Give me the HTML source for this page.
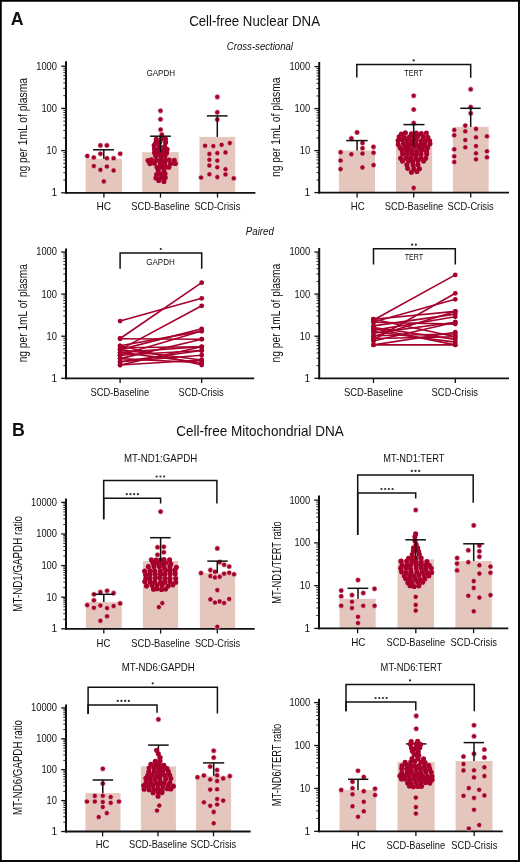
<!DOCTYPE html>
<html><head><meta charset="utf-8"><title>Cell-free DNA figure</title>
<style>html,body{margin:0;padding:0;background:#fff;}svg{display:block;will-change:transform;}</style>
</head><body>
<svg width="520" height="862" viewBox="0 0 520 862" font-family='"Liberation Sans", sans-serif'>
<rect x="0" y="0" width="520" height="862" fill="#fff"/>
<text x="10.80" y="25.40" font-size="17.8" text-anchor="start" font-weight="bold" font-style="normal" fill="#111">A</text>
<text x="189.20" y="25.90" font-size="13.9" text-anchor="start" font-weight="normal" font-style="normal" fill="#111" textLength="130.8" lengthAdjust="spacingAndGlyphs">Cell-free Nuclear DNA</text>
<text x="226.80" y="50.20" font-size="10.4" text-anchor="start" font-weight="normal" font-style="italic" fill="#111" textLength="66.2" lengthAdjust="spacingAndGlyphs">Cross-sectional</text>
<text x="245.80" y="234.70" font-size="10.2" text-anchor="start" font-weight="normal" font-style="italic" fill="#111" textLength="28.0" lengthAdjust="spacingAndGlyphs">Paired</text>
<text x="12.10" y="436.30" font-size="17.8" text-anchor="start" font-weight="bold" font-style="normal" fill="#111">B</text>
<text x="176.20" y="436.20" font-size="13.9" text-anchor="start" font-weight="normal" font-style="normal" fill="#111" textLength="167.6" lengthAdjust="spacingAndGlyphs">Cell-free Mitochondrial DNA</text>
<rect x="85.70" y="158.70" width="36.30" height="34.10" fill="#e5c6bc"/>
<rect x="142.20" y="152.20" width="36.50" height="40.60" fill="#e5c6bc"/>
<rect x="199.50" y="136.90" width="35.70" height="55.90" fill="#e5c6bc"/>
<line x1="63.30" y1="180.10" x2="66.00" y2="180.10" stroke="#111" stroke-width="0.9"/>
<line x1="63.30" y1="172.67" x2="66.00" y2="172.67" stroke="#111" stroke-width="0.9"/>
<line x1="63.30" y1="167.39" x2="66.00" y2="167.39" stroke="#111" stroke-width="0.9"/>
<line x1="63.30" y1="163.30" x2="66.00" y2="163.30" stroke="#111" stroke-width="0.9"/>
<line x1="63.30" y1="159.96" x2="66.00" y2="159.96" stroke="#111" stroke-width="0.9"/>
<line x1="63.30" y1="157.14" x2="66.00" y2="157.14" stroke="#111" stroke-width="0.9"/>
<line x1="63.30" y1="154.69" x2="66.00" y2="154.69" stroke="#111" stroke-width="0.9"/>
<line x1="63.30" y1="152.53" x2="66.00" y2="152.53" stroke="#111" stroke-width="0.9"/>
<line x1="63.30" y1="137.90" x2="66.00" y2="137.90" stroke="#111" stroke-width="0.9"/>
<line x1="63.30" y1="130.47" x2="66.00" y2="130.47" stroke="#111" stroke-width="0.9"/>
<line x1="63.30" y1="125.19" x2="66.00" y2="125.19" stroke="#111" stroke-width="0.9"/>
<line x1="63.30" y1="121.10" x2="66.00" y2="121.10" stroke="#111" stroke-width="0.9"/>
<line x1="63.30" y1="117.76" x2="66.00" y2="117.76" stroke="#111" stroke-width="0.9"/>
<line x1="63.30" y1="114.94" x2="66.00" y2="114.94" stroke="#111" stroke-width="0.9"/>
<line x1="63.30" y1="112.49" x2="66.00" y2="112.49" stroke="#111" stroke-width="0.9"/>
<line x1="63.30" y1="110.33" x2="66.00" y2="110.33" stroke="#111" stroke-width="0.9"/>
<line x1="63.30" y1="95.70" x2="66.00" y2="95.70" stroke="#111" stroke-width="0.9"/>
<line x1="63.30" y1="88.27" x2="66.00" y2="88.27" stroke="#111" stroke-width="0.9"/>
<line x1="63.30" y1="82.99" x2="66.00" y2="82.99" stroke="#111" stroke-width="0.9"/>
<line x1="63.30" y1="78.90" x2="66.00" y2="78.90" stroke="#111" stroke-width="0.9"/>
<line x1="63.30" y1="75.56" x2="66.00" y2="75.56" stroke="#111" stroke-width="0.9"/>
<line x1="63.30" y1="72.74" x2="66.00" y2="72.74" stroke="#111" stroke-width="0.9"/>
<line x1="63.30" y1="70.29" x2="66.00" y2="70.29" stroke="#111" stroke-width="0.9"/>
<line x1="63.30" y1="68.13" x2="66.00" y2="68.13" stroke="#111" stroke-width="0.9"/>
<line x1="61.20" y1="192.80" x2="66.00" y2="192.80" stroke="#111" stroke-width="1.3"/>
<text x="57.00" y="196.20" font-size="10.1" text-anchor="end" font-weight="normal" font-style="normal" fill="#111">1</text>
<line x1="61.20" y1="150.60" x2="66.00" y2="150.60" stroke="#111" stroke-width="1.3"/>
<text x="57.00" y="154.00" font-size="10.1" text-anchor="end" font-weight="normal" font-style="normal" fill="#111" textLength="10.4" lengthAdjust="spacingAndGlyphs">10</text>
<line x1="61.20" y1="108.40" x2="66.00" y2="108.40" stroke="#111" stroke-width="1.3"/>
<text x="57.00" y="111.80" font-size="10.1" text-anchor="end" font-weight="normal" font-style="normal" fill="#111" textLength="15.6" lengthAdjust="spacingAndGlyphs">100</text>
<line x1="61.20" y1="66.20" x2="66.00" y2="66.20" stroke="#111" stroke-width="1.3"/>
<text x="57.00" y="69.60" font-size="10.1" text-anchor="end" font-weight="normal" font-style="normal" fill="#111" textLength="20.8" lengthAdjust="spacingAndGlyphs">1000</text>
<line x1="66.00" y1="61.30" x2="66.00" y2="193.70" stroke="#111" stroke-width="2.0"/>
<line x1="65.00" y1="192.80" x2="255.40" y2="192.80" stroke="#111" stroke-width="1.8"/>
<circle cx="100.40" cy="145.40" r="2.55" fill="#a6002c" stroke="#f2e2da" stroke-width="0.6"/>
<circle cx="106.90" cy="145.40" r="2.55" fill="#a6002c" stroke="#f2e2da" stroke-width="0.6"/>
<circle cx="100.40" cy="153.70" r="2.55" fill="#a6002c" stroke="#f2e2da" stroke-width="0.6"/>
<circle cx="120.20" cy="153.70" r="2.55" fill="#a6002c" stroke="#f2e2da" stroke-width="0.6"/>
<circle cx="87.30" cy="156.00" r="2.55" fill="#a6002c" stroke="#f2e2da" stroke-width="0.6"/>
<circle cx="93.80" cy="157.50" r="2.55" fill="#a6002c" stroke="#f2e2da" stroke-width="0.6"/>
<circle cx="106.90" cy="158.30" r="2.55" fill="#a6002c" stroke="#f2e2da" stroke-width="0.6"/>
<circle cx="113.60" cy="158.30" r="2.55" fill="#a6002c" stroke="#f2e2da" stroke-width="0.6"/>
<circle cx="93.80" cy="166.00" r="2.55" fill="#a6002c" stroke="#f2e2da" stroke-width="0.6"/>
<circle cx="106.90" cy="166.50" r="2.55" fill="#a6002c" stroke="#f2e2da" stroke-width="0.6"/>
<circle cx="100.40" cy="169.80" r="2.55" fill="#a6002c" stroke="#f2e2da" stroke-width="0.6"/>
<circle cx="113.60" cy="170.40" r="2.55" fill="#a6002c" stroke="#f2e2da" stroke-width="0.6"/>
<circle cx="103.80" cy="181.40" r="2.55" fill="#a6002c" stroke="#f2e2da" stroke-width="0.6"/>
<circle cx="160.50" cy="110.70" r="2.55" fill="#a6002c" stroke="#f2e2da" stroke-width="0.6"/>
<circle cx="160.50" cy="119.30" r="2.55" fill="#a6002c" stroke="#f2e2da" stroke-width="0.6"/>
<circle cx="160.60" cy="129.60" r="2.55" fill="#a6002c" stroke="#f2e2da" stroke-width="0.6"/>
<circle cx="161.80" cy="134.50" r="2.55" fill="#a6002c" stroke="#f2e2da" stroke-width="0.6"/>
<circle cx="156.28" cy="139.42" r="2.55" fill="#a6002c"/>
<circle cx="161.42" cy="138.71" r="2.55" fill="#a6002c"/>
<circle cx="165.47" cy="138.94" r="2.55" fill="#a6002c"/>
<circle cx="155.75" cy="142.85" r="2.55" fill="#a6002c"/>
<circle cx="159.88" cy="141.93" r="2.55" fill="#a6002c"/>
<circle cx="165.58" cy="142.42" r="2.55" fill="#a6002c"/>
<circle cx="154.19" cy="145.40" r="2.55" fill="#a6002c"/>
<circle cx="159.34" cy="146.27" r="2.55" fill="#a6002c"/>
<circle cx="164.61" cy="146.53" r="2.55" fill="#a6002c"/>
<circle cx="154.44" cy="148.94" r="2.55" fill="#a6002c"/>
<circle cx="157.89" cy="149.55" r="2.55" fill="#a6002c"/>
<circle cx="163.48" cy="149.36" r="2.55" fill="#a6002c"/>
<circle cx="167.11" cy="149.41" r="2.55" fill="#a6002c"/>
<circle cx="154.55" cy="152.67" r="2.55" fill="#a6002c"/>
<circle cx="158.97" cy="152.99" r="2.55" fill="#a6002c"/>
<circle cx="162.66" cy="152.68" r="2.55" fill="#a6002c"/>
<circle cx="166.57" cy="152.95" r="2.55" fill="#a6002c"/>
<circle cx="155.65" cy="155.93" r="2.55" fill="#a6002c"/>
<circle cx="160.78" cy="156.57" r="2.55" fill="#a6002c"/>
<circle cx="165.02" cy="156.12" r="2.55" fill="#a6002c"/>
<circle cx="148.07" cy="160.43" r="2.55" fill="#a6002c"/>
<circle cx="151.41" cy="159.80" r="2.55" fill="#a6002c"/>
<circle cx="156.52" cy="160.25" r="2.55" fill="#a6002c"/>
<circle cx="161.17" cy="159.91" r="2.55" fill="#a6002c"/>
<circle cx="165.44" cy="160.20" r="2.55" fill="#a6002c"/>
<circle cx="169.20" cy="160.11" r="2.55" fill="#a6002c"/>
<circle cx="174.28" cy="160.42" r="2.55" fill="#a6002c"/>
<circle cx="149.86" cy="163.61" r="2.55" fill="#a6002c"/>
<circle cx="154.41" cy="163.19" r="2.55" fill="#a6002c"/>
<circle cx="160.45" cy="163.40" r="2.55" fill="#a6002c"/>
<circle cx="164.82" cy="163.56" r="2.55" fill="#a6002c"/>
<circle cx="170.57" cy="163.71" r="2.55" fill="#a6002c"/>
<circle cx="175.30" cy="163.43" r="2.55" fill="#a6002c"/>
<circle cx="157.11" cy="167.33" r="2.55" fill="#a6002c"/>
<circle cx="161.23" cy="166.87" r="2.55" fill="#a6002c"/>
<circle cx="165.29" cy="166.44" r="2.55" fill="#a6002c"/>
<circle cx="168.85" cy="167.24" r="2.55" fill="#a6002c"/>
<circle cx="158.30" cy="170.61" r="2.55" fill="#a6002c"/>
<circle cx="164.02" cy="170.10" r="2.55" fill="#a6002c"/>
<circle cx="156.57" cy="174.58" r="2.55" fill="#a6002c"/>
<circle cx="160.92" cy="174.05" r="2.55" fill="#a6002c"/>
<circle cx="165.07" cy="173.68" r="2.55" fill="#a6002c"/>
<circle cx="155.94" cy="178.04" r="2.55" fill="#a6002c"/>
<circle cx="160.82" cy="177.45" r="2.55" fill="#a6002c"/>
<circle cx="165.25" cy="177.56" r="2.55" fill="#a6002c"/>
<circle cx="158.69" cy="180.41" r="2.55" fill="#a6002c"/>
<circle cx="163.94" cy="181.38" r="2.55" fill="#a6002c"/>
<circle cx="217.30" cy="96.90" r="2.55" fill="#a6002c" stroke="#f2e2da" stroke-width="0.6"/>
<circle cx="217.30" cy="112.30" r="2.55" fill="#a6002c" stroke="#f2e2da" stroke-width="0.6"/>
<circle cx="217.30" cy="119.60" r="2.55" fill="#a6002c" stroke="#f2e2da" stroke-width="0.6"/>
<circle cx="205.10" cy="145.70" r="2.55" fill="#a6002c" stroke="#f2e2da" stroke-width="0.6"/>
<circle cx="213.30" cy="146.00" r="2.55" fill="#a6002c" stroke="#f2e2da" stroke-width="0.6"/>
<circle cx="221.60" cy="144.80" r="2.55" fill="#a6002c" stroke="#f2e2da" stroke-width="0.6"/>
<circle cx="229.80" cy="143.00" r="2.55" fill="#a6002c" stroke="#f2e2da" stroke-width="0.6"/>
<circle cx="209.40" cy="153.90" r="2.55" fill="#a6002c" stroke="#f2e2da" stroke-width="0.6"/>
<circle cx="217.30" cy="153.10" r="2.55" fill="#a6002c" stroke="#f2e2da" stroke-width="0.6"/>
<circle cx="225.50" cy="152.40" r="2.55" fill="#a6002c" stroke="#f2e2da" stroke-width="0.6"/>
<circle cx="209.40" cy="159.80" r="2.55" fill="#a6002c" stroke="#f2e2da" stroke-width="0.6"/>
<circle cx="217.30" cy="160.60" r="2.55" fill="#a6002c" stroke="#f2e2da" stroke-width="0.6"/>
<circle cx="209.40" cy="165.50" r="2.55" fill="#a6002c" stroke="#f2e2da" stroke-width="0.6"/>
<circle cx="217.30" cy="167.30" r="2.55" fill="#a6002c" stroke="#f2e2da" stroke-width="0.6"/>
<circle cx="225.50" cy="169.20" r="2.55" fill="#a6002c" stroke="#f2e2da" stroke-width="0.6"/>
<circle cx="209.40" cy="174.30" r="2.55" fill="#a6002c" stroke="#f2e2da" stroke-width="0.6"/>
<circle cx="225.50" cy="174.40" r="2.55" fill="#a6002c" stroke="#f2e2da" stroke-width="0.6"/>
<circle cx="201.10" cy="177.50" r="2.55" fill="#a6002c" stroke="#f2e2da" stroke-width="0.6"/>
<circle cx="217.30" cy="177.10" r="2.55" fill="#a6002c" stroke="#f2e2da" stroke-width="0.6"/>
<circle cx="233.70" cy="178.30" r="2.55" fill="#a6002c" stroke="#f2e2da" stroke-width="0.6"/>
<line x1="103.80" y1="149.80" x2="103.80" y2="158.70" stroke="#111" stroke-width="1.5"/>
<line x1="93.00" y1="149.80" x2="114.00" y2="149.80" stroke="#111" stroke-width="1.5"/>
<line x1="160.50" y1="136.20" x2="160.50" y2="152.20" stroke="#111" stroke-width="1.5"/>
<line x1="150.20" y1="136.20" x2="170.90" y2="136.20" stroke="#111" stroke-width="1.5"/>
<line x1="217.30" y1="115.90" x2="217.30" y2="136.90" stroke="#111" stroke-width="1.5"/>
<line x1="206.90" y1="115.90" x2="227.60" y2="115.90" stroke="#111" stroke-width="1.5"/>
<line x1="103.90" y1="192.80" x2="103.90" y2="197.60" stroke="#111" stroke-width="1.3"/>
<line x1="160.50" y1="192.80" x2="160.50" y2="197.60" stroke="#111" stroke-width="1.3"/>
<line x1="217.50" y1="192.80" x2="217.50" y2="197.60" stroke="#111" stroke-width="1.3"/>
<text x="96.50" y="209.80" font-size="10.2" text-anchor="start" font-weight="normal" font-style="normal" fill="#111" textLength="14.7" lengthAdjust="spacingAndGlyphs">HC</text>
<text x="131.20" y="209.80" font-size="10.2" text-anchor="start" font-weight="normal" font-style="normal" fill="#111" textLength="58.5" lengthAdjust="spacingAndGlyphs">SCD-Baseline</text>
<text x="194.40" y="209.80" font-size="10.2" text-anchor="start" font-weight="normal" font-style="normal" fill="#111" textLength="45.9" lengthAdjust="spacingAndGlyphs">SCD-Crisis</text>
<text transform="translate(27.00,177.20) rotate(-90)" font-size="13.4" text-anchor="start" font-weight="normal" font-style="normal" fill="#111" textLength="99.2" lengthAdjust="spacingAndGlyphs">ng per 1mL of plasma</text>
<text x="146.40" y="76.30" font-size="8.4" text-anchor="start" font-weight="normal" font-style="normal" fill="#111" textLength="28.7" lengthAdjust="spacingAndGlyphs">GAPDH</text>
<rect x="338.90" y="150.50" width="36.10" height="42.10" fill="#e5c6bc"/>
<rect x="396.00" y="146.30" width="36.20" height="46.30" fill="#e5c6bc"/>
<rect x="452.90" y="126.90" width="35.80" height="65.70" fill="#e5c6bc"/>
<line x1="316.50" y1="179.96" x2="319.20" y2="179.96" stroke="#111" stroke-width="0.9"/>
<line x1="316.50" y1="172.56" x2="319.20" y2="172.56" stroke="#111" stroke-width="0.9"/>
<line x1="316.50" y1="167.31" x2="319.20" y2="167.31" stroke="#111" stroke-width="0.9"/>
<line x1="316.50" y1="163.24" x2="319.20" y2="163.24" stroke="#111" stroke-width="0.9"/>
<line x1="316.50" y1="159.92" x2="319.20" y2="159.92" stroke="#111" stroke-width="0.9"/>
<line x1="316.50" y1="157.11" x2="319.20" y2="157.11" stroke="#111" stroke-width="0.9"/>
<line x1="316.50" y1="154.67" x2="319.20" y2="154.67" stroke="#111" stroke-width="0.9"/>
<line x1="316.50" y1="152.52" x2="319.20" y2="152.52" stroke="#111" stroke-width="0.9"/>
<line x1="316.50" y1="137.96" x2="319.20" y2="137.96" stroke="#111" stroke-width="0.9"/>
<line x1="316.50" y1="130.56" x2="319.20" y2="130.56" stroke="#111" stroke-width="0.9"/>
<line x1="316.50" y1="125.31" x2="319.20" y2="125.31" stroke="#111" stroke-width="0.9"/>
<line x1="316.50" y1="121.24" x2="319.20" y2="121.24" stroke="#111" stroke-width="0.9"/>
<line x1="316.50" y1="117.92" x2="319.20" y2="117.92" stroke="#111" stroke-width="0.9"/>
<line x1="316.50" y1="115.11" x2="319.20" y2="115.11" stroke="#111" stroke-width="0.9"/>
<line x1="316.50" y1="112.67" x2="319.20" y2="112.67" stroke="#111" stroke-width="0.9"/>
<line x1="316.50" y1="110.52" x2="319.20" y2="110.52" stroke="#111" stroke-width="0.9"/>
<line x1="316.50" y1="95.96" x2="319.20" y2="95.96" stroke="#111" stroke-width="0.9"/>
<line x1="316.50" y1="88.56" x2="319.20" y2="88.56" stroke="#111" stroke-width="0.9"/>
<line x1="316.50" y1="83.31" x2="319.20" y2="83.31" stroke="#111" stroke-width="0.9"/>
<line x1="316.50" y1="79.24" x2="319.20" y2="79.24" stroke="#111" stroke-width="0.9"/>
<line x1="316.50" y1="75.92" x2="319.20" y2="75.92" stroke="#111" stroke-width="0.9"/>
<line x1="316.50" y1="73.11" x2="319.20" y2="73.11" stroke="#111" stroke-width="0.9"/>
<line x1="316.50" y1="70.67" x2="319.20" y2="70.67" stroke="#111" stroke-width="0.9"/>
<line x1="316.50" y1="68.52" x2="319.20" y2="68.52" stroke="#111" stroke-width="0.9"/>
<line x1="314.40" y1="192.60" x2="319.20" y2="192.60" stroke="#111" stroke-width="1.3"/>
<text x="310.20" y="196.00" font-size="10.1" text-anchor="end" font-weight="normal" font-style="normal" fill="#111">1</text>
<line x1="314.40" y1="150.60" x2="319.20" y2="150.60" stroke="#111" stroke-width="1.3"/>
<text x="310.20" y="154.00" font-size="10.1" text-anchor="end" font-weight="normal" font-style="normal" fill="#111" textLength="10.4" lengthAdjust="spacingAndGlyphs">10</text>
<line x1="314.40" y1="108.60" x2="319.20" y2="108.60" stroke="#111" stroke-width="1.3"/>
<text x="310.20" y="112.00" font-size="10.1" text-anchor="end" font-weight="normal" font-style="normal" fill="#111" textLength="15.6" lengthAdjust="spacingAndGlyphs">100</text>
<line x1="314.40" y1="66.60" x2="319.20" y2="66.60" stroke="#111" stroke-width="1.3"/>
<text x="310.20" y="70.00" font-size="10.1" text-anchor="end" font-weight="normal" font-style="normal" fill="#111" textLength="20.8" lengthAdjust="spacingAndGlyphs">1000</text>
<line x1="319.20" y1="62.00" x2="319.20" y2="193.50" stroke="#111" stroke-width="2.0"/>
<line x1="318.20" y1="192.60" x2="509.00" y2="192.60" stroke="#111" stroke-width="1.8"/>
<circle cx="357.10" cy="132.40" r="2.55" fill="#a6002c" stroke="#f2e2da" stroke-width="0.6"/>
<circle cx="351.40" cy="138.40" r="2.55" fill="#a6002c" stroke="#f2e2da" stroke-width="0.6"/>
<circle cx="362.50" cy="143.00" r="2.55" fill="#a6002c" stroke="#f2e2da" stroke-width="0.6"/>
<circle cx="362.50" cy="148.20" r="2.55" fill="#a6002c" stroke="#f2e2da" stroke-width="0.6"/>
<circle cx="373.50" cy="146.90" r="2.55" fill="#a6002c" stroke="#f2e2da" stroke-width="0.6"/>
<circle cx="340.60" cy="152.20" r="2.55" fill="#a6002c" stroke="#f2e2da" stroke-width="0.6"/>
<circle cx="351.40" cy="154.20" r="2.55" fill="#a6002c" stroke="#f2e2da" stroke-width="0.6"/>
<circle cx="362.50" cy="153.50" r="2.55" fill="#a6002c" stroke="#f2e2da" stroke-width="0.6"/>
<circle cx="373.50" cy="152.70" r="2.55" fill="#a6002c" stroke="#f2e2da" stroke-width="0.6"/>
<circle cx="340.60" cy="160.50" r="2.55" fill="#a6002c" stroke="#f2e2da" stroke-width="0.6"/>
<circle cx="373.50" cy="165.10" r="2.55" fill="#a6002c" stroke="#f2e2da" stroke-width="0.6"/>
<circle cx="362.50" cy="167.40" r="2.55" fill="#a6002c" stroke="#f2e2da" stroke-width="0.6"/>
<circle cx="340.60" cy="169.10" r="2.55" fill="#a6002c" stroke="#f2e2da" stroke-width="0.6"/>
<circle cx="413.70" cy="95.70" r="2.55" fill="#a6002c" stroke="#f2e2da" stroke-width="0.6"/>
<circle cx="413.70" cy="109.50" r="2.55" fill="#a6002c" stroke="#f2e2da" stroke-width="0.6"/>
<circle cx="413.70" cy="123.10" r="2.55" fill="#a6002c" stroke="#f2e2da" stroke-width="0.6"/>
<circle cx="413.70" cy="187.90" r="2.55" fill="#a6002c" stroke="#f2e2da" stroke-width="0.6"/>
<circle cx="401.36" cy="133.94" r="2.55" fill="#a6002c"/>
<circle cx="405.37" cy="132.90" r="2.55" fill="#a6002c"/>
<circle cx="411.39" cy="133.68" r="2.55" fill="#a6002c"/>
<circle cx="416.28" cy="133.17" r="2.55" fill="#a6002c"/>
<circle cx="421.29" cy="133.53" r="2.55" fill="#a6002c"/>
<circle cx="426.35" cy="132.99" r="2.55" fill="#a6002c"/>
<circle cx="399.14" cy="136.77" r="2.55" fill="#a6002c"/>
<circle cx="404.28" cy="137.49" r="2.55" fill="#a6002c"/>
<circle cx="409.33" cy="136.95" r="2.55" fill="#a6002c"/>
<circle cx="413.51" cy="136.62" r="2.55" fill="#a6002c"/>
<circle cx="417.80" cy="136.33" r="2.55" fill="#a6002c"/>
<circle cx="423.10" cy="136.68" r="2.55" fill="#a6002c"/>
<circle cx="427.78" cy="137.37" r="2.55" fill="#a6002c"/>
<circle cx="398.07" cy="140.47" r="2.55" fill="#a6002c"/>
<circle cx="402.19" cy="139.83" r="2.55" fill="#a6002c"/>
<circle cx="406.77" cy="139.96" r="2.55" fill="#a6002c"/>
<circle cx="411.46" cy="141.00" r="2.55" fill="#a6002c"/>
<circle cx="416.13" cy="140.02" r="2.55" fill="#a6002c"/>
<circle cx="420.87" cy="140.76" r="2.55" fill="#a6002c"/>
<circle cx="425.15" cy="140.89" r="2.55" fill="#a6002c"/>
<circle cx="429.65" cy="140.75" r="2.55" fill="#a6002c"/>
<circle cx="398.27" cy="144.48" r="2.55" fill="#a6002c"/>
<circle cx="403.44" cy="143.49" r="2.55" fill="#a6002c"/>
<circle cx="407.63" cy="144.16" r="2.55" fill="#a6002c"/>
<circle cx="411.71" cy="143.94" r="2.55" fill="#a6002c"/>
<circle cx="416.18" cy="144.41" r="2.55" fill="#a6002c"/>
<circle cx="420.63" cy="144.30" r="2.55" fill="#a6002c"/>
<circle cx="424.90" cy="144.36" r="2.55" fill="#a6002c"/>
<circle cx="429.99" cy="143.85" r="2.55" fill="#a6002c"/>
<circle cx="400.28" cy="147.90" r="2.55" fill="#a6002c"/>
<circle cx="404.94" cy="147.38" r="2.55" fill="#a6002c"/>
<circle cx="408.80" cy="147.19" r="2.55" fill="#a6002c"/>
<circle cx="413.84" cy="147.00" r="2.55" fill="#a6002c"/>
<circle cx="418.56" cy="147.12" r="2.55" fill="#a6002c"/>
<circle cx="423.03" cy="147.17" r="2.55" fill="#a6002c"/>
<circle cx="427.56" cy="147.65" r="2.55" fill="#a6002c"/>
<circle cx="402.31" cy="150.92" r="2.55" fill="#a6002c"/>
<circle cx="407.24" cy="151.01" r="2.55" fill="#a6002c"/>
<circle cx="411.59" cy="150.55" r="2.55" fill="#a6002c"/>
<circle cx="416.58" cy="151.42" r="2.55" fill="#a6002c"/>
<circle cx="421.47" cy="150.39" r="2.55" fill="#a6002c"/>
<circle cx="426.46" cy="151.17" r="2.55" fill="#a6002c"/>
<circle cx="402.63" cy="154.03" r="2.55" fill="#a6002c"/>
<circle cx="407.26" cy="153.87" r="2.55" fill="#a6002c"/>
<circle cx="411.98" cy="154.13" r="2.55" fill="#a6002c"/>
<circle cx="416.29" cy="154.85" r="2.55" fill="#a6002c"/>
<circle cx="420.98" cy="154.43" r="2.55" fill="#a6002c"/>
<circle cx="426.70" cy="154.09" r="2.55" fill="#a6002c"/>
<circle cx="400.61" cy="158.36" r="2.55" fill="#a6002c"/>
<circle cx="405.93" cy="158.16" r="2.55" fill="#a6002c"/>
<circle cx="410.53" cy="157.73" r="2.55" fill="#a6002c"/>
<circle cx="415.77" cy="158.11" r="2.55" fill="#a6002c"/>
<circle cx="420.73" cy="158.45" r="2.55" fill="#a6002c"/>
<circle cx="425.73" cy="158.18" r="2.55" fill="#a6002c"/>
<circle cx="402.47" cy="161.11" r="2.55" fill="#a6002c"/>
<circle cx="408.40" cy="160.99" r="2.55" fill="#a6002c"/>
<circle cx="412.62" cy="161.63" r="2.55" fill="#a6002c"/>
<circle cx="417.84" cy="160.85" r="2.55" fill="#a6002c"/>
<circle cx="423.54" cy="160.98" r="2.55" fill="#a6002c"/>
<circle cx="406.86" cy="164.71" r="2.55" fill="#a6002c"/>
<circle cx="413.06" cy="165.19" r="2.55" fill="#a6002c"/>
<circle cx="417.96" cy="164.70" r="2.55" fill="#a6002c"/>
<circle cx="407.65" cy="168.34" r="2.55" fill="#a6002c"/>
<circle cx="413.89" cy="168.69" r="2.55" fill="#a6002c"/>
<circle cx="419.42" cy="168.71" r="2.55" fill="#a6002c"/>
<circle cx="411.41" cy="172.15" r="2.55" fill="#a6002c"/>
<circle cx="416.87" cy="171.57" r="2.55" fill="#a6002c"/>
<circle cx="470.70" cy="89.30" r="2.55" fill="#a6002c" stroke="#f2e2da" stroke-width="0.6"/>
<circle cx="470.70" cy="107.10" r="2.55" fill="#a6002c" stroke="#f2e2da" stroke-width="0.6"/>
<circle cx="470.70" cy="113.30" r="2.55" fill="#a6002c" stroke="#f2e2da" stroke-width="0.6"/>
<circle cx="465.30" cy="125.60" r="2.55" fill="#a6002c" stroke="#f2e2da" stroke-width="0.6"/>
<circle cx="454.30" cy="130.00" r="2.55" fill="#a6002c" stroke="#f2e2da" stroke-width="0.6"/>
<circle cx="465.30" cy="131.30" r="2.55" fill="#a6002c" stroke="#f2e2da" stroke-width="0.6"/>
<circle cx="476.00" cy="128.90" r="2.55" fill="#a6002c" stroke="#f2e2da" stroke-width="0.6"/>
<circle cx="454.30" cy="135.30" r="2.55" fill="#a6002c" stroke="#f2e2da" stroke-width="0.6"/>
<circle cx="476.00" cy="137.30" r="2.55" fill="#a6002c" stroke="#f2e2da" stroke-width="0.6"/>
<circle cx="486.90" cy="136.30" r="2.55" fill="#a6002c" stroke="#f2e2da" stroke-width="0.6"/>
<circle cx="465.30" cy="140.00" r="2.55" fill="#a6002c" stroke="#f2e2da" stroke-width="0.6"/>
<circle cx="465.30" cy="147.30" r="2.55" fill="#a6002c" stroke="#f2e2da" stroke-width="0.6"/>
<circle cx="476.00" cy="146.00" r="2.55" fill="#a6002c" stroke="#f2e2da" stroke-width="0.6"/>
<circle cx="454.30" cy="149.30" r="2.55" fill="#a6002c" stroke="#f2e2da" stroke-width="0.6"/>
<circle cx="476.00" cy="153.30" r="2.55" fill="#a6002c" stroke="#f2e2da" stroke-width="0.6"/>
<circle cx="486.90" cy="151.30" r="2.55" fill="#a6002c" stroke="#f2e2da" stroke-width="0.6"/>
<circle cx="454.30" cy="156.30" r="2.55" fill="#a6002c" stroke="#f2e2da" stroke-width="0.6"/>
<circle cx="476.00" cy="159.30" r="2.55" fill="#a6002c" stroke="#f2e2da" stroke-width="0.6"/>
<circle cx="486.90" cy="157.30" r="2.55" fill="#a6002c" stroke="#f2e2da" stroke-width="0.6"/>
<circle cx="454.30" cy="162.00" r="2.55" fill="#a6002c" stroke="#f2e2da" stroke-width="0.6"/>
<line x1="357.10" y1="140.60" x2="357.10" y2="150.50" stroke="#111" stroke-width="1.5"/>
<line x1="346.20" y1="140.60" x2="367.70" y2="140.60" stroke="#111" stroke-width="1.5"/>
<line x1="413.70" y1="124.60" x2="413.70" y2="146.30" stroke="#111" stroke-width="1.5"/>
<line x1="403.40" y1="124.60" x2="424.50" y2="124.60" stroke="#111" stroke-width="1.5"/>
<line x1="470.70" y1="108.30" x2="470.70" y2="126.90" stroke="#111" stroke-width="1.5"/>
<line x1="460.30" y1="108.30" x2="480.70" y2="108.30" stroke="#111" stroke-width="1.5"/>
<line x1="357.10" y1="192.60" x2="357.10" y2="197.40" stroke="#111" stroke-width="1.3"/>
<line x1="413.70" y1="192.60" x2="413.70" y2="197.40" stroke="#111" stroke-width="1.3"/>
<line x1="470.70" y1="192.60" x2="470.70" y2="197.40" stroke="#111" stroke-width="1.3"/>
<text x="350.80" y="209.80" font-size="10.2" text-anchor="start" font-weight="normal" font-style="normal" fill="#111" textLength="13.9" lengthAdjust="spacingAndGlyphs">HC</text>
<text x="384.80" y="209.80" font-size="10.2" text-anchor="start" font-weight="normal" font-style="normal" fill="#111" textLength="58.5" lengthAdjust="spacingAndGlyphs">SCD-Baseline</text>
<text x="447.60" y="209.80" font-size="10.2" text-anchor="start" font-weight="normal" font-style="normal" fill="#111" textLength="46.1" lengthAdjust="spacingAndGlyphs">SCD-Crisis</text>
<text transform="translate(280.30,177.00) rotate(-90)" font-size="13.4" text-anchor="start" font-weight="normal" font-style="normal" fill="#111" textLength="99.5" lengthAdjust="spacingAndGlyphs">ng per 1mL of plasma</text>
<polyline points="356.80,77.60 356.80,64.40 470.70,64.40 470.70,77.80" fill="none" stroke="#111" stroke-width="1.5"/>
<circle cx="413.70" cy="60.40" r="1.1" fill="#2a2a2a"/>
<text x="404.30" y="75.90" font-size="8.4" text-anchor="start" font-weight="normal" font-style="normal" fill="#111" textLength="18.5" lengthAdjust="spacingAndGlyphs">TERT</text>
<line x1="63.30" y1="365.63" x2="66.00" y2="365.63" stroke="#111" stroke-width="0.9"/>
<line x1="63.30" y1="358.21" x2="66.00" y2="358.21" stroke="#111" stroke-width="0.9"/>
<line x1="63.30" y1="352.95" x2="66.00" y2="352.95" stroke="#111" stroke-width="0.9"/>
<line x1="63.30" y1="348.87" x2="66.00" y2="348.87" stroke="#111" stroke-width="0.9"/>
<line x1="63.30" y1="345.54" x2="66.00" y2="345.54" stroke="#111" stroke-width="0.9"/>
<line x1="63.30" y1="342.72" x2="66.00" y2="342.72" stroke="#111" stroke-width="0.9"/>
<line x1="63.30" y1="340.28" x2="66.00" y2="340.28" stroke="#111" stroke-width="0.9"/>
<line x1="63.30" y1="338.13" x2="66.00" y2="338.13" stroke="#111" stroke-width="0.9"/>
<line x1="63.30" y1="323.53" x2="66.00" y2="323.53" stroke="#111" stroke-width="0.9"/>
<line x1="63.30" y1="316.11" x2="66.00" y2="316.11" stroke="#111" stroke-width="0.9"/>
<line x1="63.30" y1="310.85" x2="66.00" y2="310.85" stroke="#111" stroke-width="0.9"/>
<line x1="63.30" y1="306.77" x2="66.00" y2="306.77" stroke="#111" stroke-width="0.9"/>
<line x1="63.30" y1="303.44" x2="66.00" y2="303.44" stroke="#111" stroke-width="0.9"/>
<line x1="63.30" y1="300.62" x2="66.00" y2="300.62" stroke="#111" stroke-width="0.9"/>
<line x1="63.30" y1="298.18" x2="66.00" y2="298.18" stroke="#111" stroke-width="0.9"/>
<line x1="63.30" y1="296.03" x2="66.00" y2="296.03" stroke="#111" stroke-width="0.9"/>
<line x1="63.30" y1="281.43" x2="66.00" y2="281.43" stroke="#111" stroke-width="0.9"/>
<line x1="63.30" y1="274.01" x2="66.00" y2="274.01" stroke="#111" stroke-width="0.9"/>
<line x1="63.30" y1="268.75" x2="66.00" y2="268.75" stroke="#111" stroke-width="0.9"/>
<line x1="63.30" y1="264.67" x2="66.00" y2="264.67" stroke="#111" stroke-width="0.9"/>
<line x1="63.30" y1="261.34" x2="66.00" y2="261.34" stroke="#111" stroke-width="0.9"/>
<line x1="63.30" y1="258.52" x2="66.00" y2="258.52" stroke="#111" stroke-width="0.9"/>
<line x1="63.30" y1="256.08" x2="66.00" y2="256.08" stroke="#111" stroke-width="0.9"/>
<line x1="63.30" y1="253.93" x2="66.00" y2="253.93" stroke="#111" stroke-width="0.9"/>
<line x1="61.20" y1="378.30" x2="66.00" y2="378.30" stroke="#111" stroke-width="1.3"/>
<text x="57.00" y="381.70" font-size="10.1" text-anchor="end" font-weight="normal" font-style="normal" fill="#111">1</text>
<line x1="61.20" y1="336.20" x2="66.00" y2="336.20" stroke="#111" stroke-width="1.3"/>
<text x="57.00" y="339.60" font-size="10.1" text-anchor="end" font-weight="normal" font-style="normal" fill="#111" textLength="10.4" lengthAdjust="spacingAndGlyphs">10</text>
<line x1="61.20" y1="294.10" x2="66.00" y2="294.10" stroke="#111" stroke-width="1.3"/>
<text x="57.00" y="297.50" font-size="10.1" text-anchor="end" font-weight="normal" font-style="normal" fill="#111" textLength="15.6" lengthAdjust="spacingAndGlyphs">100</text>
<line x1="61.20" y1="252.00" x2="66.00" y2="252.00" stroke="#111" stroke-width="1.3"/>
<text x="57.00" y="255.40" font-size="10.1" text-anchor="end" font-weight="normal" font-style="normal" fill="#111" textLength="20.8" lengthAdjust="spacingAndGlyphs">1000</text>
<line x1="66.00" y1="248.60" x2="66.00" y2="379.20" stroke="#111" stroke-width="2.0"/>
<line x1="65.00" y1="378.30" x2="254.20" y2="378.30" stroke="#111" stroke-width="1.8"/>
<line x1="120.10" y1="378.30" x2="120.10" y2="383.10" stroke="#111" stroke-width="1.3"/>
<line x1="201.70" y1="378.30" x2="201.70" y2="383.10" stroke="#111" stroke-width="1.3"/>
<text x="90.40" y="396.00" font-size="10.2" text-anchor="start" font-weight="normal" font-style="normal" fill="#111" textLength="58.8" lengthAdjust="spacingAndGlyphs">SCD-Baseline</text>
<text x="178.60" y="396.00" font-size="10.2" text-anchor="start" font-weight="normal" font-style="normal" fill="#111" textLength="45.0" lengthAdjust="spacingAndGlyphs">SCD-Crisis</text>
<text transform="translate(27.00,362.30) rotate(-90)" font-size="13.4" text-anchor="start" font-weight="normal" font-style="normal" fill="#111" textLength="98.1" lengthAdjust="spacingAndGlyphs">ng per 1mL of plasma</text>
<polyline points="120.10,268.80 120.10,253.00 201.70,253.00 201.70,268.80" fill="none" stroke="#111" stroke-width="1.5"/>
<circle cx="160.80" cy="249.00" r="1.1" fill="#2a2a2a"/>
<text x="146.20" y="264.60" font-size="8.4" text-anchor="start" font-weight="normal" font-style="normal" fill="#111" textLength="28.7" lengthAdjust="spacingAndGlyphs">GAPDH</text>
<line x1="120.10" y1="321.10" x2="201.70" y2="298.30" stroke="#a6002c" stroke-width="1.6"/>
<line x1="120.10" y1="338.50" x2="201.70" y2="282.70" stroke="#a6002c" stroke-width="1.6"/>
<line x1="120.10" y1="349.60" x2="201.70" y2="305.80" stroke="#a6002c" stroke-width="1.6"/>
<line x1="120.10" y1="338.80" x2="201.70" y2="339.20" stroke="#a6002c" stroke-width="1.6"/>
<line x1="120.10" y1="345.80" x2="201.70" y2="331.10" stroke="#a6002c" stroke-width="1.6"/>
<line x1="120.10" y1="347.70" x2="201.70" y2="346.80" stroke="#a6002c" stroke-width="1.6"/>
<line x1="120.10" y1="349.60" x2="201.70" y2="328.80" stroke="#a6002c" stroke-width="1.6"/>
<line x1="120.10" y1="352.40" x2="201.70" y2="362.80" stroke="#a6002c" stroke-width="1.6"/>
<line x1="120.10" y1="355.20" x2="201.70" y2="350.50" stroke="#a6002c" stroke-width="1.6"/>
<line x1="120.10" y1="358.60" x2="201.70" y2="339.20" stroke="#a6002c" stroke-width="1.6"/>
<line x1="120.10" y1="361.80" x2="201.70" y2="355.20" stroke="#a6002c" stroke-width="1.6"/>
<line x1="120.10" y1="365.00" x2="201.70" y2="360.00" stroke="#a6002c" stroke-width="1.6"/>
<line x1="120.10" y1="345.80" x2="201.70" y2="365.00" stroke="#a6002c" stroke-width="1.6"/>
<line x1="120.10" y1="349.60" x2="201.70" y2="360.00" stroke="#a6002c" stroke-width="1.6"/>
<line x1="120.10" y1="352.40" x2="201.70" y2="346.80" stroke="#a6002c" stroke-width="1.6"/>
<line x1="120.10" y1="355.20" x2="201.70" y2="331.10" stroke="#a6002c" stroke-width="1.6"/>
<line x1="120.10" y1="358.60" x2="201.70" y2="362.80" stroke="#a6002c" stroke-width="1.6"/>
<line x1="120.10" y1="361.80" x2="201.70" y2="350.50" stroke="#a6002c" stroke-width="1.6"/>
<line x1="120.10" y1="365.00" x2="201.70" y2="346.80" stroke="#a6002c" stroke-width="1.6"/>
<circle cx="120.1" cy="321.1" r="2.4" fill="#a6002c"/><circle cx="201.7" cy="298.3" r="2.4" fill="#a6002c"/>
<circle cx="120.1" cy="338.5" r="2.4" fill="#a6002c"/><circle cx="201.7" cy="282.7" r="2.4" fill="#a6002c"/>
<circle cx="120.1" cy="349.6" r="2.4" fill="#a6002c"/><circle cx="201.7" cy="305.8" r="2.4" fill="#a6002c"/>
<circle cx="120.1" cy="338.8" r="2.4" fill="#a6002c"/><circle cx="201.7" cy="339.2" r="2.4" fill="#a6002c"/>
<circle cx="120.1" cy="345.8" r="2.4" fill="#a6002c"/><circle cx="201.7" cy="331.1" r="2.4" fill="#a6002c"/>
<circle cx="120.1" cy="347.7" r="2.4" fill="#a6002c"/><circle cx="201.7" cy="346.8" r="2.4" fill="#a6002c"/>
<circle cx="120.1" cy="349.6" r="2.4" fill="#a6002c"/><circle cx="201.7" cy="328.8" r="2.4" fill="#a6002c"/>
<circle cx="120.1" cy="352.4" r="2.4" fill="#a6002c"/><circle cx="201.7" cy="362.8" r="2.4" fill="#a6002c"/>
<circle cx="120.1" cy="355.2" r="2.4" fill="#a6002c"/><circle cx="201.7" cy="350.5" r="2.4" fill="#a6002c"/>
<circle cx="120.1" cy="358.6" r="2.4" fill="#a6002c"/><circle cx="201.7" cy="339.2" r="2.4" fill="#a6002c"/>
<circle cx="120.1" cy="361.8" r="2.4" fill="#a6002c"/><circle cx="201.7" cy="355.2" r="2.4" fill="#a6002c"/>
<circle cx="120.1" cy="365.0" r="2.4" fill="#a6002c"/><circle cx="201.7" cy="360.0" r="2.4" fill="#a6002c"/>
<circle cx="120.1" cy="345.8" r="2.4" fill="#a6002c"/><circle cx="201.7" cy="365.0" r="2.4" fill="#a6002c"/>
<circle cx="120.1" cy="349.6" r="2.4" fill="#a6002c"/><circle cx="201.7" cy="360.0" r="2.4" fill="#a6002c"/>
<circle cx="120.1" cy="352.4" r="2.4" fill="#a6002c"/><circle cx="201.7" cy="346.8" r="2.4" fill="#a6002c"/>
<circle cx="120.1" cy="355.2" r="2.4" fill="#a6002c"/><circle cx="201.7" cy="331.1" r="2.4" fill="#a6002c"/>
<circle cx="120.1" cy="358.6" r="2.4" fill="#a6002c"/><circle cx="201.7" cy="362.8" r="2.4" fill="#a6002c"/>
<circle cx="120.1" cy="361.8" r="2.4" fill="#a6002c"/><circle cx="201.7" cy="350.5" r="2.4" fill="#a6002c"/>
<circle cx="120.1" cy="365.0" r="2.4" fill="#a6002c"/><circle cx="201.7" cy="346.8" r="2.4" fill="#a6002c"/>
<line x1="316.50" y1="365.63" x2="319.20" y2="365.63" stroke="#111" stroke-width="0.9"/>
<line x1="316.50" y1="358.21" x2="319.20" y2="358.21" stroke="#111" stroke-width="0.9"/>
<line x1="316.50" y1="352.95" x2="319.20" y2="352.95" stroke="#111" stroke-width="0.9"/>
<line x1="316.50" y1="348.87" x2="319.20" y2="348.87" stroke="#111" stroke-width="0.9"/>
<line x1="316.50" y1="345.54" x2="319.20" y2="345.54" stroke="#111" stroke-width="0.9"/>
<line x1="316.50" y1="342.72" x2="319.20" y2="342.72" stroke="#111" stroke-width="0.9"/>
<line x1="316.50" y1="340.28" x2="319.20" y2="340.28" stroke="#111" stroke-width="0.9"/>
<line x1="316.50" y1="338.13" x2="319.20" y2="338.13" stroke="#111" stroke-width="0.9"/>
<line x1="316.50" y1="323.53" x2="319.20" y2="323.53" stroke="#111" stroke-width="0.9"/>
<line x1="316.50" y1="316.11" x2="319.20" y2="316.11" stroke="#111" stroke-width="0.9"/>
<line x1="316.50" y1="310.85" x2="319.20" y2="310.85" stroke="#111" stroke-width="0.9"/>
<line x1="316.50" y1="306.77" x2="319.20" y2="306.77" stroke="#111" stroke-width="0.9"/>
<line x1="316.50" y1="303.44" x2="319.20" y2="303.44" stroke="#111" stroke-width="0.9"/>
<line x1="316.50" y1="300.62" x2="319.20" y2="300.62" stroke="#111" stroke-width="0.9"/>
<line x1="316.50" y1="298.18" x2="319.20" y2="298.18" stroke="#111" stroke-width="0.9"/>
<line x1="316.50" y1="296.03" x2="319.20" y2="296.03" stroke="#111" stroke-width="0.9"/>
<line x1="316.50" y1="281.43" x2="319.20" y2="281.43" stroke="#111" stroke-width="0.9"/>
<line x1="316.50" y1="274.01" x2="319.20" y2="274.01" stroke="#111" stroke-width="0.9"/>
<line x1="316.50" y1="268.75" x2="319.20" y2="268.75" stroke="#111" stroke-width="0.9"/>
<line x1="316.50" y1="264.67" x2="319.20" y2="264.67" stroke="#111" stroke-width="0.9"/>
<line x1="316.50" y1="261.34" x2="319.20" y2="261.34" stroke="#111" stroke-width="0.9"/>
<line x1="316.50" y1="258.52" x2="319.20" y2="258.52" stroke="#111" stroke-width="0.9"/>
<line x1="316.50" y1="256.08" x2="319.20" y2="256.08" stroke="#111" stroke-width="0.9"/>
<line x1="316.50" y1="253.93" x2="319.20" y2="253.93" stroke="#111" stroke-width="0.9"/>
<line x1="314.40" y1="378.30" x2="319.20" y2="378.30" stroke="#111" stroke-width="1.3"/>
<text x="310.20" y="381.70" font-size="10.1" text-anchor="end" font-weight="normal" font-style="normal" fill="#111">1</text>
<line x1="314.40" y1="336.20" x2="319.20" y2="336.20" stroke="#111" stroke-width="1.3"/>
<text x="310.20" y="339.60" font-size="10.1" text-anchor="end" font-weight="normal" font-style="normal" fill="#111" textLength="10.4" lengthAdjust="spacingAndGlyphs">10</text>
<line x1="314.40" y1="294.10" x2="319.20" y2="294.10" stroke="#111" stroke-width="1.3"/>
<text x="310.20" y="297.50" font-size="10.1" text-anchor="end" font-weight="normal" font-style="normal" fill="#111" textLength="15.6" lengthAdjust="spacingAndGlyphs">100</text>
<line x1="314.40" y1="252.00" x2="319.20" y2="252.00" stroke="#111" stroke-width="1.3"/>
<text x="310.20" y="255.40" font-size="10.1" text-anchor="end" font-weight="normal" font-style="normal" fill="#111" textLength="20.8" lengthAdjust="spacingAndGlyphs">1000</text>
<line x1="319.20" y1="248.00" x2="319.20" y2="379.20" stroke="#111" stroke-width="2.0"/>
<line x1="318.20" y1="378.30" x2="509.00" y2="378.30" stroke="#111" stroke-width="1.8"/>
<line x1="373.50" y1="378.30" x2="373.50" y2="383.10" stroke="#111" stroke-width="1.3"/>
<line x1="455.30" y1="378.30" x2="455.30" y2="383.10" stroke="#111" stroke-width="1.3"/>
<text x="343.90" y="396.30" font-size="10.2" text-anchor="start" font-weight="normal" font-style="normal" fill="#111" textLength="59.2" lengthAdjust="spacingAndGlyphs">SCD-Baseline</text>
<text x="431.60" y="396.30" font-size="10.2" text-anchor="start" font-weight="normal" font-style="normal" fill="#111" textLength="46.4" lengthAdjust="spacingAndGlyphs">SCD-Crisis</text>
<text transform="translate(280.30,362.50) rotate(-90)" font-size="13.4" text-anchor="start" font-weight="normal" font-style="normal" fill="#111" textLength="98.8" lengthAdjust="spacingAndGlyphs">ng per 1mL of plasma</text>
<polyline points="373.50,264.50 373.50,248.70 455.30,248.70 455.30,264.50" fill="none" stroke="#111" stroke-width="1.5"/>
<circle cx="412.15" cy="244.70" r="1.1" fill="#2a2a2a"/>
<circle cx="415.85" cy="244.70" r="1.1" fill="#2a2a2a"/>
<text x="404.70" y="260.30" font-size="8.4" text-anchor="start" font-weight="normal" font-style="normal" fill="#111" textLength="18.5" lengthAdjust="spacingAndGlyphs">TERT</text>
<line x1="373.50" y1="320.00" x2="455.30" y2="274.90" stroke="#a6002c" stroke-width="1.6"/>
<line x1="373.50" y1="322.00" x2="455.30" y2="299.30" stroke="#a6002c" stroke-width="1.6"/>
<line x1="373.50" y1="339.80" x2="455.30" y2="293.30" stroke="#a6002c" stroke-width="1.6"/>
<line x1="373.50" y1="319.20" x2="455.30" y2="311.40" stroke="#a6002c" stroke-width="1.6"/>
<line x1="373.50" y1="325.90" x2="455.30" y2="314.10" stroke="#a6002c" stroke-width="1.6"/>
<line x1="373.50" y1="330.40" x2="455.30" y2="316.80" stroke="#a6002c" stroke-width="1.6"/>
<line x1="373.50" y1="333.10" x2="455.30" y2="322.20" stroke="#a6002c" stroke-width="1.6"/>
<line x1="373.50" y1="322.20" x2="455.30" y2="324.10" stroke="#a6002c" stroke-width="1.6"/>
<line x1="373.50" y1="344.90" x2="455.30" y2="332.20" stroke="#a6002c" stroke-width="1.6"/>
<line x1="373.50" y1="335.80" x2="455.30" y2="334.00" stroke="#a6002c" stroke-width="1.6"/>
<line x1="373.50" y1="338.50" x2="455.30" y2="336.70" stroke="#a6002c" stroke-width="1.6"/>
<line x1="373.50" y1="327.50" x2="455.30" y2="339.40" stroke="#a6002c" stroke-width="1.6"/>
<line x1="373.50" y1="331.50" x2="455.30" y2="342.10" stroke="#a6002c" stroke-width="1.6"/>
<line x1="373.50" y1="344.90" x2="455.30" y2="344.90" stroke="#a6002c" stroke-width="1.6"/>
<line x1="373.50" y1="336.50" x2="455.30" y2="311.40" stroke="#a6002c" stroke-width="1.6"/>
<line x1="373.50" y1="341.00" x2="455.30" y2="322.20" stroke="#a6002c" stroke-width="1.6"/>
<line x1="373.50" y1="328.50" x2="455.30" y2="344.90" stroke="#a6002c" stroke-width="1.6"/>
<line x1="373.50" y1="319.20" x2="455.30" y2="336.70" stroke="#a6002c" stroke-width="1.6"/>
<circle cx="373.5" cy="320" r="2.4" fill="#a6002c"/><circle cx="455.3" cy="274.9" r="2.4" fill="#a6002c"/>
<circle cx="373.5" cy="322" r="2.4" fill="#a6002c"/><circle cx="455.3" cy="299.3" r="2.4" fill="#a6002c"/>
<circle cx="373.5" cy="339.8" r="2.4" fill="#a6002c"/><circle cx="455.3" cy="293.3" r="2.4" fill="#a6002c"/>
<circle cx="373.5" cy="319.2" r="2.4" fill="#a6002c"/><circle cx="455.3" cy="311.4" r="2.4" fill="#a6002c"/>
<circle cx="373.5" cy="325.9" r="2.4" fill="#a6002c"/><circle cx="455.3" cy="314.1" r="2.4" fill="#a6002c"/>
<circle cx="373.5" cy="330.4" r="2.4" fill="#a6002c"/><circle cx="455.3" cy="316.8" r="2.4" fill="#a6002c"/>
<circle cx="373.5" cy="333.1" r="2.4" fill="#a6002c"/><circle cx="455.3" cy="322.2" r="2.4" fill="#a6002c"/>
<circle cx="373.5" cy="322.2" r="2.4" fill="#a6002c"/><circle cx="455.3" cy="324.1" r="2.4" fill="#a6002c"/>
<circle cx="373.5" cy="344.9" r="2.4" fill="#a6002c"/><circle cx="455.3" cy="332.2" r="2.4" fill="#a6002c"/>
<circle cx="373.5" cy="335.8" r="2.4" fill="#a6002c"/><circle cx="455.3" cy="334" r="2.4" fill="#a6002c"/>
<circle cx="373.5" cy="338.5" r="2.4" fill="#a6002c"/><circle cx="455.3" cy="336.7" r="2.4" fill="#a6002c"/>
<circle cx="373.5" cy="327.5" r="2.4" fill="#a6002c"/><circle cx="455.3" cy="339.4" r="2.4" fill="#a6002c"/>
<circle cx="373.5" cy="331.5" r="2.4" fill="#a6002c"/><circle cx="455.3" cy="342.1" r="2.4" fill="#a6002c"/>
<circle cx="373.5" cy="344.9" r="2.4" fill="#a6002c"/><circle cx="455.3" cy="344.9" r="2.4" fill="#a6002c"/>
<circle cx="373.5" cy="336.5" r="2.4" fill="#a6002c"/><circle cx="455.3" cy="311.4" r="2.4" fill="#a6002c"/>
<circle cx="373.5" cy="341" r="2.4" fill="#a6002c"/><circle cx="455.3" cy="322.2" r="2.4" fill="#a6002c"/>
<circle cx="373.5" cy="328.5" r="2.4" fill="#a6002c"/><circle cx="455.3" cy="344.9" r="2.4" fill="#a6002c"/>
<circle cx="373.5" cy="319.2" r="2.4" fill="#a6002c"/><circle cx="455.3" cy="336.7" r="2.4" fill="#a6002c"/>
<rect x="85.90" y="602.10" width="35.90" height="26.70" fill="#e5c6bc"/>
<rect x="142.90" y="561.00" width="35.20" height="67.80" fill="#e5c6bc"/>
<rect x="199.90" y="573.10" width="35.20" height="55.70" fill="#e5c6bc"/>
<line x1="63.30" y1="619.29" x2="66.00" y2="619.29" stroke="#111" stroke-width="0.9"/>
<line x1="63.30" y1="613.72" x2="66.00" y2="613.72" stroke="#111" stroke-width="0.9"/>
<line x1="63.30" y1="609.77" x2="66.00" y2="609.77" stroke="#111" stroke-width="0.9"/>
<line x1="63.30" y1="606.71" x2="66.00" y2="606.71" stroke="#111" stroke-width="0.9"/>
<line x1="63.30" y1="604.21" x2="66.00" y2="604.21" stroke="#111" stroke-width="0.9"/>
<line x1="63.30" y1="602.09" x2="66.00" y2="602.09" stroke="#111" stroke-width="0.9"/>
<line x1="63.30" y1="600.26" x2="66.00" y2="600.26" stroke="#111" stroke-width="0.9"/>
<line x1="63.30" y1="598.65" x2="66.00" y2="598.65" stroke="#111" stroke-width="0.9"/>
<line x1="63.30" y1="587.69" x2="66.00" y2="587.69" stroke="#111" stroke-width="0.9"/>
<line x1="63.30" y1="582.12" x2="66.00" y2="582.12" stroke="#111" stroke-width="0.9"/>
<line x1="63.30" y1="578.17" x2="66.00" y2="578.17" stroke="#111" stroke-width="0.9"/>
<line x1="63.30" y1="575.11" x2="66.00" y2="575.11" stroke="#111" stroke-width="0.9"/>
<line x1="63.30" y1="572.61" x2="66.00" y2="572.61" stroke="#111" stroke-width="0.9"/>
<line x1="63.30" y1="570.49" x2="66.00" y2="570.49" stroke="#111" stroke-width="0.9"/>
<line x1="63.30" y1="568.66" x2="66.00" y2="568.66" stroke="#111" stroke-width="0.9"/>
<line x1="63.30" y1="567.05" x2="66.00" y2="567.05" stroke="#111" stroke-width="0.9"/>
<line x1="63.30" y1="556.09" x2="66.00" y2="556.09" stroke="#111" stroke-width="0.9"/>
<line x1="63.30" y1="550.52" x2="66.00" y2="550.52" stroke="#111" stroke-width="0.9"/>
<line x1="63.30" y1="546.57" x2="66.00" y2="546.57" stroke="#111" stroke-width="0.9"/>
<line x1="63.30" y1="543.51" x2="66.00" y2="543.51" stroke="#111" stroke-width="0.9"/>
<line x1="63.30" y1="541.01" x2="66.00" y2="541.01" stroke="#111" stroke-width="0.9"/>
<line x1="63.30" y1="538.89" x2="66.00" y2="538.89" stroke="#111" stroke-width="0.9"/>
<line x1="63.30" y1="537.06" x2="66.00" y2="537.06" stroke="#111" stroke-width="0.9"/>
<line x1="63.30" y1="535.45" x2="66.00" y2="535.45" stroke="#111" stroke-width="0.9"/>
<line x1="63.30" y1="524.49" x2="66.00" y2="524.49" stroke="#111" stroke-width="0.9"/>
<line x1="63.30" y1="518.92" x2="66.00" y2="518.92" stroke="#111" stroke-width="0.9"/>
<line x1="63.30" y1="514.97" x2="66.00" y2="514.97" stroke="#111" stroke-width="0.9"/>
<line x1="63.30" y1="511.91" x2="66.00" y2="511.91" stroke="#111" stroke-width="0.9"/>
<line x1="63.30" y1="509.41" x2="66.00" y2="509.41" stroke="#111" stroke-width="0.9"/>
<line x1="63.30" y1="507.29" x2="66.00" y2="507.29" stroke="#111" stroke-width="0.9"/>
<line x1="63.30" y1="505.46" x2="66.00" y2="505.46" stroke="#111" stroke-width="0.9"/>
<line x1="63.30" y1="503.85" x2="66.00" y2="503.85" stroke="#111" stroke-width="0.9"/>
<line x1="61.20" y1="628.80" x2="66.00" y2="628.80" stroke="#111" stroke-width="1.3"/>
<text x="57.00" y="632.20" font-size="10.1" text-anchor="end" font-weight="normal" font-style="normal" fill="#111">1</text>
<line x1="61.20" y1="597.20" x2="66.00" y2="597.20" stroke="#111" stroke-width="1.3"/>
<text x="57.00" y="600.60" font-size="10.1" text-anchor="end" font-weight="normal" font-style="normal" fill="#111" textLength="10.4" lengthAdjust="spacingAndGlyphs">10</text>
<line x1="61.20" y1="565.60" x2="66.00" y2="565.60" stroke="#111" stroke-width="1.3"/>
<text x="57.00" y="569.00" font-size="10.1" text-anchor="end" font-weight="normal" font-style="normal" fill="#111" textLength="15.6" lengthAdjust="spacingAndGlyphs">100</text>
<line x1="61.20" y1="534.00" x2="66.00" y2="534.00" stroke="#111" stroke-width="1.3"/>
<text x="57.00" y="537.40" font-size="10.1" text-anchor="end" font-weight="normal" font-style="normal" fill="#111" textLength="20.8" lengthAdjust="spacingAndGlyphs">1000</text>
<line x1="61.20" y1="502.40" x2="66.00" y2="502.40" stroke="#111" stroke-width="1.3"/>
<text x="57.00" y="505.80" font-size="10.1" text-anchor="end" font-weight="normal" font-style="normal" fill="#111" textLength="26.0" lengthAdjust="spacingAndGlyphs">10000</text>
<line x1="66.00" y1="498.60" x2="66.00" y2="629.70" stroke="#111" stroke-width="2.0"/>
<line x1="65.00" y1="628.80" x2="254.70" y2="628.80" stroke="#111" stroke-width="1.8"/>
<circle cx="107.10" cy="590.80" r="2.55" fill="#a6002c" stroke="#f2e2da" stroke-width="0.6"/>
<circle cx="100.40" cy="592.10" r="2.55" fill="#a6002c" stroke="#f2e2da" stroke-width="0.6"/>
<circle cx="113.60" cy="593.10" r="2.55" fill="#a6002c" stroke="#f2e2da" stroke-width="0.6"/>
<circle cx="93.90" cy="594.30" r="2.55" fill="#a6002c" stroke="#f2e2da" stroke-width="0.6"/>
<circle cx="93.90" cy="600.30" r="2.55" fill="#a6002c" stroke="#f2e2da" stroke-width="0.6"/>
<circle cx="120.10" cy="603.40" r="2.55" fill="#a6002c" stroke="#f2e2da" stroke-width="0.6"/>
<circle cx="87.20" cy="605.10" r="2.55" fill="#a6002c" stroke="#f2e2da" stroke-width="0.6"/>
<circle cx="100.40" cy="605.50" r="2.55" fill="#a6002c" stroke="#f2e2da" stroke-width="0.6"/>
<circle cx="113.60" cy="606.00" r="2.55" fill="#a6002c" stroke="#f2e2da" stroke-width="0.6"/>
<circle cx="93.90" cy="607.70" r="2.55" fill="#a6002c" stroke="#f2e2da" stroke-width="0.6"/>
<circle cx="107.10" cy="608.10" r="2.55" fill="#a6002c" stroke="#f2e2da" stroke-width="0.6"/>
<circle cx="107.10" cy="616.30" r="2.55" fill="#a6002c" stroke="#f2e2da" stroke-width="0.6"/>
<circle cx="100.40" cy="620.70" r="2.55" fill="#a6002c" stroke="#f2e2da" stroke-width="0.6"/>
<circle cx="160.60" cy="511.60" r="2.55" fill="#a6002c" stroke="#f2e2da" stroke-width="0.6"/>
<circle cx="157.50" cy="547.20" r="2.55" fill="#a6002c" stroke="#f2e2da" stroke-width="0.6"/>
<circle cx="163.80" cy="546.80" r="2.55" fill="#a6002c" stroke="#f2e2da" stroke-width="0.6"/>
<circle cx="163.80" cy="552.30" r="2.55" fill="#a6002c" stroke="#f2e2da" stroke-width="0.6"/>
<circle cx="157.50" cy="554.80" r="2.55" fill="#a6002c" stroke="#f2e2da" stroke-width="0.6"/>
<circle cx="162.30" cy="603.10" r="2.55" fill="#a6002c" stroke="#f2e2da" stroke-width="0.6"/>
<circle cx="158.90" cy="607.10" r="2.55" fill="#a6002c" stroke="#f2e2da" stroke-width="0.6"/>
<circle cx="151.38" cy="559.79" r="2.55" fill="#a6002c"/>
<circle cx="156.05" cy="560.03" r="2.55" fill="#a6002c"/>
<circle cx="160.45" cy="560.01" r="2.55" fill="#a6002c"/>
<circle cx="164.06" cy="559.46" r="2.55" fill="#a6002c"/>
<circle cx="169.62" cy="559.68" r="2.55" fill="#a6002c"/>
<circle cx="152.89" cy="562.74" r="2.55" fill="#a6002c"/>
<circle cx="157.03" cy="562.90" r="2.55" fill="#a6002c"/>
<circle cx="161.78" cy="563.29" r="2.55" fill="#a6002c"/>
<circle cx="165.80" cy="562.86" r="2.55" fill="#a6002c"/>
<circle cx="170.78" cy="563.70" r="2.55" fill="#a6002c"/>
<circle cx="148.31" cy="566.49" r="2.55" fill="#a6002c"/>
<circle cx="153.91" cy="566.47" r="2.55" fill="#a6002c"/>
<circle cx="159.25" cy="566.45" r="2.55" fill="#a6002c"/>
<circle cx="164.07" cy="567.35" r="2.55" fill="#a6002c"/>
<circle cx="169.88" cy="566.56" r="2.55" fill="#a6002c"/>
<circle cx="176.37" cy="567.35" r="2.55" fill="#a6002c"/>
<circle cx="144.66" cy="571.15" r="2.55" fill="#a6002c"/>
<circle cx="150.04" cy="570.81" r="2.55" fill="#a6002c"/>
<circle cx="154.72" cy="571.13" r="2.55" fill="#a6002c"/>
<circle cx="160.38" cy="571.16" r="2.55" fill="#a6002c"/>
<circle cx="165.70" cy="570.36" r="2.55" fill="#a6002c"/>
<circle cx="170.14" cy="570.20" r="2.55" fill="#a6002c"/>
<circle cx="174.96" cy="570.08" r="2.55" fill="#a6002c"/>
<circle cx="145.61" cy="574.42" r="2.55" fill="#a6002c"/>
<circle cx="150.05" cy="574.51" r="2.55" fill="#a6002c"/>
<circle cx="155.24" cy="574.07" r="2.55" fill="#a6002c"/>
<circle cx="160.61" cy="574.28" r="2.55" fill="#a6002c"/>
<circle cx="164.80" cy="574.28" r="2.55" fill="#a6002c"/>
<circle cx="170.06" cy="573.77" r="2.55" fill="#a6002c"/>
<circle cx="175.18" cy="573.73" r="2.55" fill="#a6002c"/>
<circle cx="145.92" cy="578.41" r="2.55" fill="#a6002c"/>
<circle cx="149.97" cy="578.35" r="2.55" fill="#a6002c"/>
<circle cx="155.31" cy="578.09" r="2.55" fill="#a6002c"/>
<circle cx="159.81" cy="577.46" r="2.55" fill="#a6002c"/>
<circle cx="164.94" cy="578.55" r="2.55" fill="#a6002c"/>
<circle cx="169.89" cy="578.31" r="2.55" fill="#a6002c"/>
<circle cx="175.70" cy="578.53" r="2.55" fill="#a6002c"/>
<circle cx="144.77" cy="581.53" r="2.55" fill="#a6002c"/>
<circle cx="150.10" cy="582.03" r="2.55" fill="#a6002c"/>
<circle cx="154.70" cy="582.00" r="2.55" fill="#a6002c"/>
<circle cx="160.64" cy="582.13" r="2.55" fill="#a6002c"/>
<circle cx="164.83" cy="582.23" r="2.55" fill="#a6002c"/>
<circle cx="170.01" cy="581.51" r="2.55" fill="#a6002c"/>
<circle cx="175.74" cy="582.20" r="2.55" fill="#a6002c"/>
<circle cx="146.47" cy="585.91" r="2.55" fill="#a6002c"/>
<circle cx="152.04" cy="585.17" r="2.55" fill="#a6002c"/>
<circle cx="157.08" cy="585.01" r="2.55" fill="#a6002c"/>
<circle cx="162.11" cy="584.98" r="2.55" fill="#a6002c"/>
<circle cx="168.17" cy="586.00" r="2.55" fill="#a6002c"/>
<circle cx="172.85" cy="584.86" r="2.55" fill="#a6002c"/>
<circle cx="153.48" cy="589.14" r="2.55" fill="#a6002c"/>
<circle cx="157.06" cy="588.78" r="2.55" fill="#a6002c"/>
<circle cx="161.56" cy="589.49" r="2.55" fill="#a6002c"/>
<circle cx="165.66" cy="589.01" r="2.55" fill="#a6002c"/>
<circle cx="217.30" cy="548.40" r="2.55" fill="#a6002c" stroke="#f2e2da" stroke-width="0.6"/>
<circle cx="219.70" cy="562.10" r="2.55" fill="#a6002c" stroke="#f2e2da" stroke-width="0.6"/>
<circle cx="224.10" cy="564.70" r="2.55" fill="#a6002c" stroke="#f2e2da" stroke-width="0.6"/>
<circle cx="229.20" cy="566.50" r="2.55" fill="#a6002c" stroke="#f2e2da" stroke-width="0.6"/>
<circle cx="210.40" cy="570.10" r="2.55" fill="#a6002c" stroke="#f2e2da" stroke-width="0.6"/>
<circle cx="215.00" cy="571.80" r="2.55" fill="#a6002c" stroke="#f2e2da" stroke-width="0.6"/>
<circle cx="201.00" cy="573.10" r="2.55" fill="#a6002c" stroke="#f2e2da" stroke-width="0.6"/>
<circle cx="224.10" cy="573.70" r="2.55" fill="#a6002c" stroke="#f2e2da" stroke-width="0.6"/>
<circle cx="229.20" cy="572.70" r="2.55" fill="#a6002c" stroke="#f2e2da" stroke-width="0.6"/>
<circle cx="234.00" cy="574.30" r="2.55" fill="#a6002c" stroke="#f2e2da" stroke-width="0.6"/>
<circle cx="210.40" cy="576.10" r="2.55" fill="#a6002c" stroke="#f2e2da" stroke-width="0.6"/>
<circle cx="215.00" cy="577.40" r="2.55" fill="#a6002c" stroke="#f2e2da" stroke-width="0.6"/>
<circle cx="219.70" cy="576.70" r="2.55" fill="#a6002c" stroke="#f2e2da" stroke-width="0.6"/>
<circle cx="217.30" cy="590.10" r="2.55" fill="#a6002c" stroke="#f2e2da" stroke-width="0.6"/>
<circle cx="210.40" cy="599.40" r="2.55" fill="#a6002c" stroke="#f2e2da" stroke-width="0.6"/>
<circle cx="229.20" cy="599.00" r="2.55" fill="#a6002c" stroke="#f2e2da" stroke-width="0.6"/>
<circle cx="215.00" cy="602.50" r="2.55" fill="#a6002c" stroke="#f2e2da" stroke-width="0.6"/>
<circle cx="219.70" cy="601.40" r="2.55" fill="#a6002c" stroke="#f2e2da" stroke-width="0.6"/>
<circle cx="224.10" cy="603.00" r="2.55" fill="#a6002c" stroke="#f2e2da" stroke-width="0.6"/>
<circle cx="217.30" cy="626.80" r="2.55" fill="#a6002c" stroke="#f2e2da" stroke-width="0.6"/>
<line x1="103.80" y1="594.30" x2="103.80" y2="602.10" stroke="#111" stroke-width="1.5"/>
<line x1="93.20" y1="594.30" x2="114.00" y2="594.30" stroke="#111" stroke-width="1.5"/>
<line x1="160.60" y1="537.70" x2="160.60" y2="561.00" stroke="#111" stroke-width="1.5"/>
<line x1="150.10" y1="537.70" x2="170.70" y2="537.70" stroke="#111" stroke-width="1.5"/>
<line x1="217.30" y1="561.10" x2="217.30" y2="573.10" stroke="#111" stroke-width="1.5"/>
<line x1="207.30" y1="561.10" x2="227.70" y2="561.10" stroke="#111" stroke-width="1.5"/>
<line x1="103.80" y1="628.80" x2="103.80" y2="633.60" stroke="#111" stroke-width="1.3"/>
<line x1="160.60" y1="628.80" x2="160.60" y2="633.60" stroke="#111" stroke-width="1.3"/>
<line x1="217.30" y1="628.80" x2="217.30" y2="633.60" stroke="#111" stroke-width="1.3"/>
<text x="96.60" y="646.60" font-size="10.2" text-anchor="start" font-weight="normal" font-style="normal" fill="#111" textLength="13.8" lengthAdjust="spacingAndGlyphs">HC</text>
<text x="131.20" y="646.60" font-size="10.2" text-anchor="start" font-weight="normal" font-style="normal" fill="#111" textLength="58.8" lengthAdjust="spacingAndGlyphs">SCD-Baseline</text>
<text x="194.90" y="646.60" font-size="10.2" text-anchor="start" font-weight="normal" font-style="normal" fill="#111" textLength="45.3" lengthAdjust="spacingAndGlyphs">SCD-Crisis</text>
<text transform="translate(21.90,611.70) rotate(-90)" font-size="13.4" text-anchor="start" font-weight="normal" font-style="normal" fill="#111" textLength="95.7" lengthAdjust="spacingAndGlyphs">MT-ND1/GAPDH ratio</text>
<text x="124.00" y="462.10" font-size="10.4" text-anchor="start" font-weight="normal" font-style="normal" fill="#111" textLength="73.3" lengthAdjust="spacingAndGlyphs">MT-ND1:GAPDH</text>
<polyline points="103.70,519.30 103.70,480.50 216.90,480.50 216.90,503.40" fill="none" stroke="#111" stroke-width="1.5"/>
<circle cx="156.70" cy="476.50" r="1.1" fill="#2a2a2a"/>
<circle cx="160.40" cy="476.50" r="1.1" fill="#2a2a2a"/>
<circle cx="164.10" cy="476.50" r="1.1" fill="#2a2a2a"/>
<polyline points="103.70,519.30 103.70,498.20 160.60,498.20 160.60,503.60" fill="none" stroke="#111" stroke-width="1.5"/>
<circle cx="126.75" cy="494.20" r="1.1" fill="#2a2a2a"/>
<circle cx="130.45" cy="494.20" r="1.1" fill="#2a2a2a"/>
<circle cx="134.15" cy="494.20" r="1.1" fill="#2a2a2a"/>
<circle cx="137.85" cy="494.20" r="1.1" fill="#2a2a2a"/>
<rect x="339.50" y="598.80" width="36.20" height="29.60" fill="#e5c6bc"/>
<rect x="397.60" y="559.40" width="36.40" height="69.00" fill="#e5c6bc"/>
<rect x="455.40" y="561.10" width="36.40" height="67.30" fill="#e5c6bc"/>
<line x1="316.30" y1="615.53" x2="319.00" y2="615.53" stroke="#111" stroke-width="0.9"/>
<line x1="316.30" y1="608.00" x2="319.00" y2="608.00" stroke="#111" stroke-width="0.9"/>
<line x1="316.30" y1="602.66" x2="319.00" y2="602.66" stroke="#111" stroke-width="0.9"/>
<line x1="316.30" y1="598.52" x2="319.00" y2="598.52" stroke="#111" stroke-width="0.9"/>
<line x1="316.30" y1="595.13" x2="319.00" y2="595.13" stroke="#111" stroke-width="0.9"/>
<line x1="316.30" y1="592.27" x2="319.00" y2="592.27" stroke="#111" stroke-width="0.9"/>
<line x1="316.30" y1="589.79" x2="319.00" y2="589.79" stroke="#111" stroke-width="0.9"/>
<line x1="316.30" y1="587.61" x2="319.00" y2="587.61" stroke="#111" stroke-width="0.9"/>
<line x1="316.30" y1="572.78" x2="319.00" y2="572.78" stroke="#111" stroke-width="0.9"/>
<line x1="316.30" y1="565.25" x2="319.00" y2="565.25" stroke="#111" stroke-width="0.9"/>
<line x1="316.30" y1="559.91" x2="319.00" y2="559.91" stroke="#111" stroke-width="0.9"/>
<line x1="316.30" y1="555.77" x2="319.00" y2="555.77" stroke="#111" stroke-width="0.9"/>
<line x1="316.30" y1="552.38" x2="319.00" y2="552.38" stroke="#111" stroke-width="0.9"/>
<line x1="316.30" y1="549.52" x2="319.00" y2="549.52" stroke="#111" stroke-width="0.9"/>
<line x1="316.30" y1="547.04" x2="319.00" y2="547.04" stroke="#111" stroke-width="0.9"/>
<line x1="316.30" y1="544.86" x2="319.00" y2="544.86" stroke="#111" stroke-width="0.9"/>
<line x1="316.30" y1="530.03" x2="319.00" y2="530.03" stroke="#111" stroke-width="0.9"/>
<line x1="316.30" y1="522.50" x2="319.00" y2="522.50" stroke="#111" stroke-width="0.9"/>
<line x1="316.30" y1="517.16" x2="319.00" y2="517.16" stroke="#111" stroke-width="0.9"/>
<line x1="316.30" y1="513.02" x2="319.00" y2="513.02" stroke="#111" stroke-width="0.9"/>
<line x1="316.30" y1="509.63" x2="319.00" y2="509.63" stroke="#111" stroke-width="0.9"/>
<line x1="316.30" y1="506.77" x2="319.00" y2="506.77" stroke="#111" stroke-width="0.9"/>
<line x1="316.30" y1="504.29" x2="319.00" y2="504.29" stroke="#111" stroke-width="0.9"/>
<line x1="316.30" y1="502.11" x2="319.00" y2="502.11" stroke="#111" stroke-width="0.9"/>
<line x1="314.20" y1="628.40" x2="319.00" y2="628.40" stroke="#111" stroke-width="1.3"/>
<text x="310.20" y="631.80" font-size="10.1" text-anchor="end" font-weight="normal" font-style="normal" fill="#111">1</text>
<line x1="314.20" y1="585.65" x2="319.00" y2="585.65" stroke="#111" stroke-width="1.3"/>
<text x="310.20" y="589.05" font-size="10.1" text-anchor="end" font-weight="normal" font-style="normal" fill="#111" textLength="10.4" lengthAdjust="spacingAndGlyphs">10</text>
<line x1="314.20" y1="542.90" x2="319.00" y2="542.90" stroke="#111" stroke-width="1.3"/>
<text x="310.20" y="546.30" font-size="10.1" text-anchor="end" font-weight="normal" font-style="normal" fill="#111" textLength="15.6" lengthAdjust="spacingAndGlyphs">100</text>
<line x1="314.20" y1="500.15" x2="319.00" y2="500.15" stroke="#111" stroke-width="1.3"/>
<text x="310.20" y="503.55" font-size="10.1" text-anchor="end" font-weight="normal" font-style="normal" fill="#111" textLength="20.8" lengthAdjust="spacingAndGlyphs">1000</text>
<line x1="319.00" y1="495.50" x2="319.00" y2="629.30" stroke="#111" stroke-width="2.0"/>
<line x1="318.00" y1="628.40" x2="508.30" y2="628.40" stroke="#111" stroke-width="1.8"/>
<circle cx="358.00" cy="580.00" r="2.55" fill="#a6002c" stroke="#f2e2da" stroke-width="0.6"/>
<circle cx="341.25" cy="590.50" r="2.55" fill="#a6002c" stroke="#f2e2da" stroke-width="0.6"/>
<circle cx="374.50" cy="588.75" r="2.55" fill="#a6002c" stroke="#f2e2da" stroke-width="0.6"/>
<circle cx="363.25" cy="593.00" r="2.55" fill="#a6002c" stroke="#f2e2da" stroke-width="0.6"/>
<circle cx="352.00" cy="595.00" r="2.55" fill="#a6002c" stroke="#f2e2da" stroke-width="0.6"/>
<circle cx="341.25" cy="596.25" r="2.55" fill="#a6002c" stroke="#f2e2da" stroke-width="0.6"/>
<circle cx="352.00" cy="601.75" r="2.55" fill="#a6002c" stroke="#f2e2da" stroke-width="0.6"/>
<circle cx="341.25" cy="605.75" r="2.55" fill="#a6002c" stroke="#f2e2da" stroke-width="0.6"/>
<circle cx="363.25" cy="605.75" r="2.55" fill="#a6002c" stroke="#f2e2da" stroke-width="0.6"/>
<circle cx="374.50" cy="605.75" r="2.55" fill="#a6002c" stroke="#f2e2da" stroke-width="0.6"/>
<circle cx="352.00" cy="608.00" r="2.55" fill="#a6002c" stroke="#f2e2da" stroke-width="0.6"/>
<circle cx="358.00" cy="616.75" r="2.55" fill="#a6002c" stroke="#f2e2da" stroke-width="0.6"/>
<circle cx="358.00" cy="623.00" r="2.55" fill="#a6002c" stroke="#f2e2da" stroke-width="0.6"/>
<circle cx="415.70" cy="510.00" r="2.55" fill="#a6002c" stroke="#f2e2da" stroke-width="0.6"/>
<circle cx="415.70" cy="596.80" r="2.55" fill="#a6002c" stroke="#f2e2da" stroke-width="0.6"/>
<circle cx="415.70" cy="604.90" r="2.55" fill="#a6002c" stroke="#f2e2da" stroke-width="0.6"/>
<circle cx="415.70" cy="610.60" r="2.55" fill="#a6002c" stroke="#f2e2da" stroke-width="0.6"/>
<circle cx="415.66" cy="533.89" r="2.55" fill="#a6002c"/>
<circle cx="414.92" cy="536.71" r="2.55" fill="#a6002c"/>
<circle cx="414.98" cy="540.70" r="2.55" fill="#a6002c"/>
<circle cx="416.06" cy="544.31" r="2.55" fill="#a6002c"/>
<circle cx="413.52" cy="547.82" r="2.55" fill="#a6002c"/>
<circle cx="417.61" cy="547.86" r="2.55" fill="#a6002c"/>
<circle cx="413.33" cy="550.90" r="2.55" fill="#a6002c"/>
<circle cx="418.50" cy="551.22" r="2.55" fill="#a6002c"/>
<circle cx="412.18" cy="554.56" r="2.55" fill="#a6002c"/>
<circle cx="419.32" cy="554.22" r="2.55" fill="#a6002c"/>
<circle cx="408.58" cy="558.22" r="2.55" fill="#a6002c"/>
<circle cx="412.82" cy="557.80" r="2.55" fill="#a6002c"/>
<circle cx="416.11" cy="558.36" r="2.55" fill="#a6002c"/>
<circle cx="421.15" cy="557.93" r="2.55" fill="#a6002c"/>
<circle cx="401.06" cy="561.14" r="2.55" fill="#a6002c"/>
<circle cx="406.69" cy="561.25" r="2.55" fill="#a6002c"/>
<circle cx="412.05" cy="561.61" r="2.55" fill="#a6002c"/>
<circle cx="416.13" cy="561.69" r="2.55" fill="#a6002c"/>
<circle cx="421.30" cy="562.02" r="2.55" fill="#a6002c"/>
<circle cx="426.94" cy="561.52" r="2.55" fill="#a6002c"/>
<circle cx="402.22" cy="565.24" r="2.55" fill="#a6002c"/>
<circle cx="407.02" cy="565.57" r="2.55" fill="#a6002c"/>
<circle cx="410.70" cy="564.83" r="2.55" fill="#a6002c"/>
<circle cx="416.00" cy="564.77" r="2.55" fill="#a6002c"/>
<circle cx="420.59" cy="564.51" r="2.55" fill="#a6002c"/>
<circle cx="425.55" cy="565.03" r="2.55" fill="#a6002c"/>
<circle cx="429.24" cy="565.20" r="2.55" fill="#a6002c"/>
<circle cx="400.64" cy="568.14" r="2.55" fill="#a6002c"/>
<circle cx="405.88" cy="568.07" r="2.55" fill="#a6002c"/>
<circle cx="410.59" cy="568.94" r="2.55" fill="#a6002c"/>
<circle cx="416.21" cy="567.92" r="2.55" fill="#a6002c"/>
<circle cx="421.34" cy="567.92" r="2.55" fill="#a6002c"/>
<circle cx="425.84" cy="568.99" r="2.55" fill="#a6002c"/>
<circle cx="431.22" cy="568.27" r="2.55" fill="#a6002c"/>
<circle cx="401.55" cy="571.87" r="2.55" fill="#a6002c"/>
<circle cx="406.21" cy="572.60" r="2.55" fill="#a6002c"/>
<circle cx="411.08" cy="571.91" r="2.55" fill="#a6002c"/>
<circle cx="416.87" cy="571.88" r="2.55" fill="#a6002c"/>
<circle cx="422.11" cy="571.69" r="2.55" fill="#a6002c"/>
<circle cx="427.07" cy="572.47" r="2.55" fill="#a6002c"/>
<circle cx="431.65" cy="572.47" r="2.55" fill="#a6002c"/>
<circle cx="404.34" cy="575.90" r="2.55" fill="#a6002c"/>
<circle cx="409.66" cy="575.52" r="2.55" fill="#a6002c"/>
<circle cx="414.16" cy="575.75" r="2.55" fill="#a6002c"/>
<circle cx="418.98" cy="575.00" r="2.55" fill="#a6002c"/>
<circle cx="424.28" cy="575.22" r="2.55" fill="#a6002c"/>
<circle cx="428.86" cy="575.84" r="2.55" fill="#a6002c"/>
<circle cx="405.59" cy="578.43" r="2.55" fill="#a6002c"/>
<circle cx="410.29" cy="579.11" r="2.55" fill="#a6002c"/>
<circle cx="415.33" cy="578.71" r="2.55" fill="#a6002c"/>
<circle cx="420.20" cy="579.51" r="2.55" fill="#a6002c"/>
<circle cx="424.73" cy="578.89" r="2.55" fill="#a6002c"/>
<circle cx="407.86" cy="582.63" r="2.55" fill="#a6002c"/>
<circle cx="412.24" cy="582.47" r="2.55" fill="#a6002c"/>
<circle cx="417.60" cy="582.07" r="2.55" fill="#a6002c"/>
<circle cx="422.59" cy="582.27" r="2.55" fill="#a6002c"/>
<circle cx="409.99" cy="585.79" r="2.55" fill="#a6002c"/>
<circle cx="414.16" cy="586.56" r="2.55" fill="#a6002c"/>
<circle cx="418.81" cy="585.85" r="2.55" fill="#a6002c"/>
<circle cx="473.70" cy="525.40" r="2.55" fill="#a6002c" stroke="#f2e2da" stroke-width="0.6"/>
<circle cx="479.40" cy="545.50" r="2.55" fill="#a6002c" stroke="#f2e2da" stroke-width="0.6"/>
<circle cx="468.30" cy="550.30" r="2.55" fill="#a6002c" stroke="#f2e2da" stroke-width="0.6"/>
<circle cx="479.40" cy="551.20" r="2.55" fill="#a6002c" stroke="#f2e2da" stroke-width="0.6"/>
<circle cx="479.40" cy="556.70" r="2.55" fill="#a6002c" stroke="#f2e2da" stroke-width="0.6"/>
<circle cx="457.10" cy="558.00" r="2.55" fill="#a6002c" stroke="#f2e2da" stroke-width="0.6"/>
<circle cx="468.30" cy="562.20" r="2.55" fill="#a6002c" stroke="#f2e2da" stroke-width="0.6"/>
<circle cx="457.10" cy="563.60" r="2.55" fill="#a6002c" stroke="#f2e2da" stroke-width="0.6"/>
<circle cx="479.40" cy="565.20" r="2.55" fill="#a6002c" stroke="#f2e2da" stroke-width="0.6"/>
<circle cx="490.40" cy="566.60" r="2.55" fill="#a6002c" stroke="#f2e2da" stroke-width="0.6"/>
<circle cx="457.10" cy="570.40" r="2.55" fill="#a6002c" stroke="#f2e2da" stroke-width="0.6"/>
<circle cx="479.40" cy="573.60" r="2.55" fill="#a6002c" stroke="#f2e2da" stroke-width="0.6"/>
<circle cx="490.40" cy="572.70" r="2.55" fill="#a6002c" stroke="#f2e2da" stroke-width="0.6"/>
<circle cx="473.70" cy="581.10" r="2.55" fill="#a6002c" stroke="#f2e2da" stroke-width="0.6"/>
<circle cx="473.70" cy="587.90" r="2.55" fill="#a6002c" stroke="#f2e2da" stroke-width="0.6"/>
<circle cx="468.30" cy="595.70" r="2.55" fill="#a6002c" stroke="#f2e2da" stroke-width="0.6"/>
<circle cx="479.40" cy="597.50" r="2.55" fill="#a6002c" stroke="#f2e2da" stroke-width="0.6"/>
<circle cx="490.40" cy="595.10" r="2.55" fill="#a6002c" stroke="#f2e2da" stroke-width="0.6"/>
<circle cx="473.70" cy="611.30" r="2.55" fill="#a6002c" stroke="#f2e2da" stroke-width="0.6"/>
<line x1="358.00" y1="588.30" x2="358.00" y2="598.80" stroke="#111" stroke-width="1.5"/>
<line x1="347.50" y1="588.30" x2="368.30" y2="588.30" stroke="#111" stroke-width="1.5"/>
<line x1="415.70" y1="539.80" x2="415.70" y2="559.40" stroke="#111" stroke-width="1.5"/>
<line x1="405.30" y1="539.80" x2="425.90" y2="539.80" stroke="#111" stroke-width="1.5"/>
<line x1="473.70" y1="543.80" x2="473.70" y2="561.10" stroke="#111" stroke-width="1.5"/>
<line x1="463.20" y1="543.80" x2="484.20" y2="543.80" stroke="#111" stroke-width="1.5"/>
<line x1="357.60" y1="628.40" x2="357.60" y2="633.20" stroke="#111" stroke-width="1.3"/>
<line x1="415.80" y1="628.40" x2="415.80" y2="633.20" stroke="#111" stroke-width="1.3"/>
<line x1="473.60" y1="628.40" x2="473.60" y2="633.20" stroke="#111" stroke-width="1.3"/>
<text x="351.20" y="646.00" font-size="10.2" text-anchor="start" font-weight="normal" font-style="normal" fill="#111" textLength="14.2" lengthAdjust="spacingAndGlyphs">HC</text>
<text x="386.60" y="646.00" font-size="10.2" text-anchor="start" font-weight="normal" font-style="normal" fill="#111" textLength="58.5" lengthAdjust="spacingAndGlyphs">SCD-Baseline</text>
<text x="450.60" y="646.00" font-size="10.2" text-anchor="start" font-weight="normal" font-style="normal" fill="#111" textLength="46.4" lengthAdjust="spacingAndGlyphs">SCD-Crisis</text>
<text transform="translate(281.00,603.70) rotate(-90)" font-size="13.4" text-anchor="start" font-weight="normal" font-style="normal" fill="#111" textLength="82.4" lengthAdjust="spacingAndGlyphs">MT-ND1/TERT ratio</text>
<text x="383.30" y="461.70" font-size="10.4" text-anchor="start" font-weight="normal" font-style="normal" fill="#111" textLength="61.1" lengthAdjust="spacingAndGlyphs">MT-ND1:TERT</text>
<polyline points="357.70,535.00 357.70,474.90 473.20,474.90 473.20,502.70" fill="none" stroke="#111" stroke-width="1.5"/>
<circle cx="411.80" cy="470.90" r="1.1" fill="#2a2a2a"/>
<circle cx="415.50" cy="470.90" r="1.1" fill="#2a2a2a"/>
<circle cx="419.20" cy="470.90" r="1.1" fill="#2a2a2a"/>
<polyline points="357.70,535.00 357.70,493.00 415.70,493.00 415.70,498.60" fill="none" stroke="#111" stroke-width="1.5"/>
<circle cx="381.45" cy="489.00" r="1.1" fill="#2a2a2a"/>
<circle cx="385.15" cy="489.00" r="1.1" fill="#2a2a2a"/>
<circle cx="388.85" cy="489.00" r="1.1" fill="#2a2a2a"/>
<circle cx="392.55" cy="489.00" r="1.1" fill="#2a2a2a"/>
<rect x="85.40" y="793.10" width="35.10" height="38.40" fill="#e5c6bc"/>
<rect x="140.90" y="766.30" width="35.00" height="65.20" fill="#e5c6bc"/>
<rect x="196.10" y="775.80" width="35.00" height="55.70" fill="#e5c6bc"/>
<line x1="63.30" y1="822.20" x2="66.00" y2="822.20" stroke="#111" stroke-width="0.9"/>
<line x1="63.30" y1="816.76" x2="66.00" y2="816.76" stroke="#111" stroke-width="0.9"/>
<line x1="63.30" y1="812.90" x2="66.00" y2="812.90" stroke="#111" stroke-width="0.9"/>
<line x1="63.30" y1="809.90" x2="66.00" y2="809.90" stroke="#111" stroke-width="0.9"/>
<line x1="63.30" y1="807.46" x2="66.00" y2="807.46" stroke="#111" stroke-width="0.9"/>
<line x1="63.30" y1="805.39" x2="66.00" y2="805.39" stroke="#111" stroke-width="0.9"/>
<line x1="63.30" y1="803.59" x2="66.00" y2="803.59" stroke="#111" stroke-width="0.9"/>
<line x1="63.30" y1="802.01" x2="66.00" y2="802.01" stroke="#111" stroke-width="0.9"/>
<line x1="63.30" y1="791.30" x2="66.00" y2="791.30" stroke="#111" stroke-width="0.9"/>
<line x1="63.30" y1="785.86" x2="66.00" y2="785.86" stroke="#111" stroke-width="0.9"/>
<line x1="63.30" y1="782.00" x2="66.00" y2="782.00" stroke="#111" stroke-width="0.9"/>
<line x1="63.30" y1="779.00" x2="66.00" y2="779.00" stroke="#111" stroke-width="0.9"/>
<line x1="63.30" y1="776.56" x2="66.00" y2="776.56" stroke="#111" stroke-width="0.9"/>
<line x1="63.30" y1="774.49" x2="66.00" y2="774.49" stroke="#111" stroke-width="0.9"/>
<line x1="63.30" y1="772.69" x2="66.00" y2="772.69" stroke="#111" stroke-width="0.9"/>
<line x1="63.30" y1="771.11" x2="66.00" y2="771.11" stroke="#111" stroke-width="0.9"/>
<line x1="63.30" y1="760.40" x2="66.00" y2="760.40" stroke="#111" stroke-width="0.9"/>
<line x1="63.30" y1="754.96" x2="66.00" y2="754.96" stroke="#111" stroke-width="0.9"/>
<line x1="63.30" y1="751.10" x2="66.00" y2="751.10" stroke="#111" stroke-width="0.9"/>
<line x1="63.30" y1="748.10" x2="66.00" y2="748.10" stroke="#111" stroke-width="0.9"/>
<line x1="63.30" y1="745.66" x2="66.00" y2="745.66" stroke="#111" stroke-width="0.9"/>
<line x1="63.30" y1="743.59" x2="66.00" y2="743.59" stroke="#111" stroke-width="0.9"/>
<line x1="63.30" y1="741.79" x2="66.00" y2="741.79" stroke="#111" stroke-width="0.9"/>
<line x1="63.30" y1="740.21" x2="66.00" y2="740.21" stroke="#111" stroke-width="0.9"/>
<line x1="63.30" y1="729.50" x2="66.00" y2="729.50" stroke="#111" stroke-width="0.9"/>
<line x1="63.30" y1="724.06" x2="66.00" y2="724.06" stroke="#111" stroke-width="0.9"/>
<line x1="63.30" y1="720.20" x2="66.00" y2="720.20" stroke="#111" stroke-width="0.9"/>
<line x1="63.30" y1="717.20" x2="66.00" y2="717.20" stroke="#111" stroke-width="0.9"/>
<line x1="63.30" y1="714.76" x2="66.00" y2="714.76" stroke="#111" stroke-width="0.9"/>
<line x1="63.30" y1="712.69" x2="66.00" y2="712.69" stroke="#111" stroke-width="0.9"/>
<line x1="63.30" y1="710.89" x2="66.00" y2="710.89" stroke="#111" stroke-width="0.9"/>
<line x1="63.30" y1="709.31" x2="66.00" y2="709.31" stroke="#111" stroke-width="0.9"/>
<line x1="61.20" y1="831.50" x2="66.00" y2="831.50" stroke="#111" stroke-width="1.3"/>
<text x="57.00" y="834.90" font-size="10.1" text-anchor="end" font-weight="normal" font-style="normal" fill="#111">1</text>
<line x1="61.20" y1="800.60" x2="66.00" y2="800.60" stroke="#111" stroke-width="1.3"/>
<text x="57.00" y="804.00" font-size="10.1" text-anchor="end" font-weight="normal" font-style="normal" fill="#111" textLength="10.4" lengthAdjust="spacingAndGlyphs">10</text>
<line x1="61.20" y1="769.70" x2="66.00" y2="769.70" stroke="#111" stroke-width="1.3"/>
<text x="57.00" y="773.10" font-size="10.1" text-anchor="end" font-weight="normal" font-style="normal" fill="#111" textLength="15.6" lengthAdjust="spacingAndGlyphs">100</text>
<line x1="61.20" y1="738.80" x2="66.00" y2="738.80" stroke="#111" stroke-width="1.3"/>
<text x="57.00" y="742.20" font-size="10.1" text-anchor="end" font-weight="normal" font-style="normal" fill="#111" textLength="20.8" lengthAdjust="spacingAndGlyphs">1000</text>
<line x1="61.20" y1="707.90" x2="66.00" y2="707.90" stroke="#111" stroke-width="1.3"/>
<text x="57.00" y="711.30" font-size="10.1" text-anchor="end" font-weight="normal" font-style="normal" fill="#111" textLength="26.0" lengthAdjust="spacingAndGlyphs">10000</text>
<line x1="66.00" y1="704.50" x2="66.00" y2="832.40" stroke="#111" stroke-width="2.0"/>
<line x1="65.00" y1="831.50" x2="250.60" y2="831.50" stroke="#111" stroke-width="1.8"/>
<circle cx="102.80" cy="768.70" r="2.55" fill="#a6002c" stroke="#f2e2da" stroke-width="0.6"/>
<circle cx="102.80" cy="783.50" r="2.55" fill="#a6002c" stroke="#f2e2da" stroke-width="0.6"/>
<circle cx="94.80" cy="795.90" r="2.55" fill="#a6002c" stroke="#f2e2da" stroke-width="0.6"/>
<circle cx="102.80" cy="795.70" r="2.55" fill="#a6002c" stroke="#f2e2da" stroke-width="0.6"/>
<circle cx="110.70" cy="797.00" r="2.55" fill="#a6002c" stroke="#f2e2da" stroke-width="0.6"/>
<circle cx="87.00" cy="801.50" r="2.55" fill="#a6002c" stroke="#f2e2da" stroke-width="0.6"/>
<circle cx="94.80" cy="801.50" r="2.55" fill="#a6002c" stroke="#f2e2da" stroke-width="0.6"/>
<circle cx="102.80" cy="802.00" r="2.55" fill="#a6002c" stroke="#f2e2da" stroke-width="0.6"/>
<circle cx="110.70" cy="802.80" r="2.55" fill="#a6002c" stroke="#f2e2da" stroke-width="0.6"/>
<circle cx="118.90" cy="801.50" r="2.55" fill="#a6002c" stroke="#f2e2da" stroke-width="0.6"/>
<circle cx="102.80" cy="807.00" r="2.55" fill="#a6002c" stroke="#f2e2da" stroke-width="0.6"/>
<circle cx="106.80" cy="813.10" r="2.55" fill="#a6002c" stroke="#f2e2da" stroke-width="0.6"/>
<circle cx="98.70" cy="817.00" r="2.55" fill="#a6002c" stroke="#f2e2da" stroke-width="0.6"/>
<line x1="158.40" y1="745.10" x2="158.40" y2="766.30" stroke="#111" stroke-width="1.5"/>
<line x1="148.10" y1="745.10" x2="168.70" y2="745.10" stroke="#111" stroke-width="1.5"/>
<circle cx="158.40" cy="719.40" r="2.55" fill="#a6002c" stroke="#f2e2da" stroke-width="0.6"/>
<circle cx="159.30" cy="805.50" r="2.55" fill="#a6002c" stroke="#f2e2da" stroke-width="0.6"/>
<circle cx="157.00" cy="810.60" r="2.55" fill="#a6002c" stroke="#f2e2da" stroke-width="0.6"/>
<circle cx="156.62" cy="750.28" r="2.55" fill="#a6002c"/>
<circle cx="158.31" cy="753.69" r="2.55" fill="#a6002c"/>
<circle cx="160.17" cy="757.54" r="2.55" fill="#a6002c"/>
<circle cx="155.29" cy="761.21" r="2.55" fill="#a6002c"/>
<circle cx="160.03" cy="761.12" r="2.55" fill="#a6002c"/>
<circle cx="150.91" cy="764.21" r="2.55" fill="#a6002c"/>
<circle cx="155.41" cy="765.09" r="2.55" fill="#a6002c"/>
<circle cx="159.13" cy="764.37" r="2.55" fill="#a6002c"/>
<circle cx="163.81" cy="765.24" r="2.55" fill="#a6002c"/>
<circle cx="149.16" cy="768.08" r="2.55" fill="#a6002c"/>
<circle cx="154.15" cy="767.66" r="2.55" fill="#a6002c"/>
<circle cx="158.52" cy="767.95" r="2.55" fill="#a6002c"/>
<circle cx="162.17" cy="767.74" r="2.55" fill="#a6002c"/>
<circle cx="166.88" cy="768.58" r="2.55" fill="#a6002c"/>
<circle cx="148.78" cy="771.80" r="2.55" fill="#a6002c"/>
<circle cx="154.07" cy="771.55" r="2.55" fill="#a6002c"/>
<circle cx="158.69" cy="771.18" r="2.55" fill="#a6002c"/>
<circle cx="162.84" cy="771.35" r="2.55" fill="#a6002c"/>
<circle cx="168.33" cy="771.61" r="2.55" fill="#a6002c"/>
<circle cx="147.78" cy="775.30" r="2.55" fill="#a6002c"/>
<circle cx="152.23" cy="774.96" r="2.55" fill="#a6002c"/>
<circle cx="156.92" cy="775.44" r="2.55" fill="#a6002c"/>
<circle cx="160.54" cy="775.29" r="2.55" fill="#a6002c"/>
<circle cx="165.16" cy="775.65" r="2.55" fill="#a6002c"/>
<circle cx="169.68" cy="774.95" r="2.55" fill="#a6002c"/>
<circle cx="145.86" cy="778.24" r="2.55" fill="#a6002c"/>
<circle cx="150.21" cy="779.01" r="2.55" fill="#a6002c"/>
<circle cx="154.92" cy="778.69" r="2.55" fill="#a6002c"/>
<circle cx="159.81" cy="778.90" r="2.55" fill="#a6002c"/>
<circle cx="165.71" cy="778.79" r="2.55" fill="#a6002c"/>
<circle cx="170.87" cy="778.48" r="2.55" fill="#a6002c"/>
<circle cx="146.18" cy="782.31" r="2.55" fill="#a6002c"/>
<circle cx="150.78" cy="782.15" r="2.55" fill="#a6002c"/>
<circle cx="155.83" cy="782.73" r="2.55" fill="#a6002c"/>
<circle cx="160.13" cy="782.40" r="2.55" fill="#a6002c"/>
<circle cx="164.37" cy="782.44" r="2.55" fill="#a6002c"/>
<circle cx="169.81" cy="782.79" r="2.55" fill="#a6002c"/>
<circle cx="143.69" cy="785.44" r="2.55" fill="#a6002c"/>
<circle cx="148.20" cy="785.90" r="2.55" fill="#a6002c"/>
<circle cx="152.79" cy="785.65" r="2.55" fill="#a6002c"/>
<circle cx="158.00" cy="785.24" r="2.55" fill="#a6002c"/>
<circle cx="162.90" cy="786.02" r="2.55" fill="#a6002c"/>
<circle cx="168.01" cy="785.40" r="2.55" fill="#a6002c"/>
<circle cx="173.36" cy="786.15" r="2.55" fill="#a6002c"/>
<circle cx="144.19" cy="789.14" r="2.55" fill="#a6002c"/>
<circle cx="149.18" cy="789.66" r="2.55" fill="#a6002c"/>
<circle cx="153.93" cy="789.64" r="2.55" fill="#a6002c"/>
<circle cx="157.71" cy="789.10" r="2.55" fill="#a6002c"/>
<circle cx="162.23" cy="789.66" r="2.55" fill="#a6002c"/>
<circle cx="167.37" cy="788.78" r="2.55" fill="#a6002c"/>
<circle cx="170.86" cy="788.88" r="2.55" fill="#a6002c"/>
<circle cx="153.10" cy="792.68" r="2.55" fill="#a6002c"/>
<circle cx="158.13" cy="792.42" r="2.55" fill="#a6002c"/>
<circle cx="162.04" cy="792.60" r="2.55" fill="#a6002c"/>
<circle cx="158.04" cy="796.28" r="2.55" fill="#a6002c"/>
<circle cx="213.70" cy="750.70" r="2.55" fill="#a6002c" stroke="#f2e2da" stroke-width="0.6"/>
<circle cx="213.70" cy="757.60" r="2.55" fill="#a6002c" stroke="#f2e2da" stroke-width="0.6"/>
<circle cx="210.20" cy="766.50" r="2.55" fill="#a6002c" stroke="#f2e2da" stroke-width="0.6"/>
<circle cx="217.10" cy="770.00" r="2.55" fill="#a6002c" stroke="#f2e2da" stroke-width="0.6"/>
<circle cx="217.10" cy="775.30" r="2.55" fill="#a6002c" stroke="#f2e2da" stroke-width="0.6"/>
<circle cx="197.50" cy="777.20" r="2.55" fill="#a6002c" stroke="#f2e2da" stroke-width="0.6"/>
<circle cx="203.90" cy="775.50" r="2.55" fill="#a6002c" stroke="#f2e2da" stroke-width="0.6"/>
<circle cx="210.20" cy="779.50" r="2.55" fill="#a6002c" stroke="#f2e2da" stroke-width="0.6"/>
<circle cx="217.10" cy="781.00" r="2.55" fill="#a6002c" stroke="#f2e2da" stroke-width="0.6"/>
<circle cx="223.20" cy="778.40" r="2.55" fill="#a6002c" stroke="#f2e2da" stroke-width="0.6"/>
<circle cx="229.80" cy="776.10" r="2.55" fill="#a6002c" stroke="#f2e2da" stroke-width="0.6"/>
<circle cx="210.20" cy="789.60" r="2.55" fill="#a6002c" stroke="#f2e2da" stroke-width="0.6"/>
<circle cx="217.10" cy="789.30" r="2.55" fill="#a6002c" stroke="#f2e2da" stroke-width="0.6"/>
<circle cx="217.10" cy="799.00" r="2.55" fill="#a6002c" stroke="#f2e2da" stroke-width="0.6"/>
<circle cx="223.20" cy="800.60" r="2.55" fill="#a6002c" stroke="#f2e2da" stroke-width="0.6"/>
<circle cx="203.90" cy="802.30" r="2.55" fill="#a6002c" stroke="#f2e2da" stroke-width="0.6"/>
<circle cx="217.10" cy="804.50" r="2.55" fill="#a6002c" stroke="#f2e2da" stroke-width="0.6"/>
<circle cx="210.20" cy="805.80" r="2.55" fill="#a6002c" stroke="#f2e2da" stroke-width="0.6"/>
<circle cx="213.70" cy="811.90" r="2.55" fill="#a6002c" stroke="#f2e2da" stroke-width="0.6"/>
<circle cx="213.70" cy="823.20" r="2.55" fill="#a6002c" stroke="#f2e2da" stroke-width="0.6"/>
<line x1="102.80" y1="780.00" x2="102.80" y2="793.10" stroke="#111" stroke-width="1.5"/>
<line x1="92.60" y1="780.00" x2="113.10" y2="780.00" stroke="#111" stroke-width="1.5"/>
<line x1="213.70" y1="762.90" x2="213.70" y2="775.80" stroke="#111" stroke-width="1.5"/>
<line x1="203.00" y1="762.90" x2="224.20" y2="762.90" stroke="#111" stroke-width="1.5"/>
<line x1="102.60" y1="831.50" x2="102.60" y2="836.30" stroke="#111" stroke-width="1.3"/>
<line x1="158.00" y1="831.50" x2="158.00" y2="836.30" stroke="#111" stroke-width="1.3"/>
<line x1="213.50" y1="831.50" x2="213.50" y2="836.30" stroke="#111" stroke-width="1.3"/>
<text x="95.70" y="848.30" font-size="10.2" text-anchor="start" font-weight="normal" font-style="normal" fill="#111" textLength="13.7" lengthAdjust="spacingAndGlyphs">HC</text>
<text x="129.00" y="848.30" font-size="10.2" text-anchor="start" font-weight="normal" font-style="normal" fill="#111" textLength="58.2" lengthAdjust="spacingAndGlyphs">SCD-Baseline</text>
<text x="190.50" y="848.30" font-size="10.2" text-anchor="start" font-weight="normal" font-style="normal" fill="#111" textLength="45.7" lengthAdjust="spacingAndGlyphs">SCD-Crisis</text>
<text transform="translate(21.90,815.00) rotate(-90)" font-size="13.4" text-anchor="start" font-weight="normal" font-style="normal" fill="#111" textLength="95.0" lengthAdjust="spacingAndGlyphs">MT-ND6/GAPDH ratio</text>
<text x="121.80" y="671.40" font-size="10.4" text-anchor="start" font-weight="normal" font-style="normal" fill="#111" textLength="73.0" lengthAdjust="spacingAndGlyphs">MT-ND6:GAPDH</text>
<polyline points="88.10,714.10 88.10,687.30 217.40,687.30 217.40,713.50" fill="none" stroke="#111" stroke-width="1.5"/>
<circle cx="152.70" cy="683.30" r="1.1" fill="#2a2a2a"/>
<polyline points="88.10,714.10 88.10,704.90 157.00,704.90 157.00,712.70" fill="none" stroke="#111" stroke-width="1.5"/>
<circle cx="117.75" cy="700.90" r="1.1" fill="#2a2a2a"/>
<circle cx="121.45" cy="700.90" r="1.1" fill="#2a2a2a"/>
<circle cx="125.15" cy="700.90" r="1.1" fill="#2a2a2a"/>
<circle cx="128.85" cy="700.90" r="1.1" fill="#2a2a2a"/>
<rect x="339.50" y="790.00" width="36.70" height="41.30" fill="#e5c6bc"/>
<rect x="397.50" y="762.00" width="37.20" height="69.30" fill="#e5c6bc"/>
<rect x="455.60" y="761.00" width="36.90" height="70.30" fill="#e5c6bc"/>
<line x1="316.30" y1="818.39" x2="319.00" y2="818.39" stroke="#111" stroke-width="0.9"/>
<line x1="316.30" y1="810.83" x2="319.00" y2="810.83" stroke="#111" stroke-width="0.9"/>
<line x1="316.30" y1="805.47" x2="319.00" y2="805.47" stroke="#111" stroke-width="0.9"/>
<line x1="316.30" y1="801.31" x2="319.00" y2="801.31" stroke="#111" stroke-width="0.9"/>
<line x1="316.30" y1="797.92" x2="319.00" y2="797.92" stroke="#111" stroke-width="0.9"/>
<line x1="316.30" y1="795.05" x2="319.00" y2="795.05" stroke="#111" stroke-width="0.9"/>
<line x1="316.30" y1="792.56" x2="319.00" y2="792.56" stroke="#111" stroke-width="0.9"/>
<line x1="316.30" y1="790.36" x2="319.00" y2="790.36" stroke="#111" stroke-width="0.9"/>
<line x1="316.30" y1="775.49" x2="319.00" y2="775.49" stroke="#111" stroke-width="0.9"/>
<line x1="316.30" y1="767.93" x2="319.00" y2="767.93" stroke="#111" stroke-width="0.9"/>
<line x1="316.30" y1="762.57" x2="319.00" y2="762.57" stroke="#111" stroke-width="0.9"/>
<line x1="316.30" y1="758.41" x2="319.00" y2="758.41" stroke="#111" stroke-width="0.9"/>
<line x1="316.30" y1="755.02" x2="319.00" y2="755.02" stroke="#111" stroke-width="0.9"/>
<line x1="316.30" y1="752.15" x2="319.00" y2="752.15" stroke="#111" stroke-width="0.9"/>
<line x1="316.30" y1="749.66" x2="319.00" y2="749.66" stroke="#111" stroke-width="0.9"/>
<line x1="316.30" y1="747.46" x2="319.00" y2="747.46" stroke="#111" stroke-width="0.9"/>
<line x1="316.30" y1="732.59" x2="319.00" y2="732.59" stroke="#111" stroke-width="0.9"/>
<line x1="316.30" y1="725.03" x2="319.00" y2="725.03" stroke="#111" stroke-width="0.9"/>
<line x1="316.30" y1="719.67" x2="319.00" y2="719.67" stroke="#111" stroke-width="0.9"/>
<line x1="316.30" y1="715.51" x2="319.00" y2="715.51" stroke="#111" stroke-width="0.9"/>
<line x1="316.30" y1="712.12" x2="319.00" y2="712.12" stroke="#111" stroke-width="0.9"/>
<line x1="316.30" y1="709.25" x2="319.00" y2="709.25" stroke="#111" stroke-width="0.9"/>
<line x1="316.30" y1="706.76" x2="319.00" y2="706.76" stroke="#111" stroke-width="0.9"/>
<line x1="316.30" y1="704.56" x2="319.00" y2="704.56" stroke="#111" stroke-width="0.9"/>
<line x1="314.20" y1="831.30" x2="319.00" y2="831.30" stroke="#111" stroke-width="1.3"/>
<text x="310.20" y="834.70" font-size="10.1" text-anchor="end" font-weight="normal" font-style="normal" fill="#111">1</text>
<line x1="314.20" y1="788.40" x2="319.00" y2="788.40" stroke="#111" stroke-width="1.3"/>
<text x="310.20" y="791.80" font-size="10.1" text-anchor="end" font-weight="normal" font-style="normal" fill="#111" textLength="10.4" lengthAdjust="spacingAndGlyphs">10</text>
<line x1="314.20" y1="745.50" x2="319.00" y2="745.50" stroke="#111" stroke-width="1.3"/>
<text x="310.20" y="748.90" font-size="10.1" text-anchor="end" font-weight="normal" font-style="normal" fill="#111" textLength="15.6" lengthAdjust="spacingAndGlyphs">100</text>
<line x1="314.20" y1="702.60" x2="319.00" y2="702.60" stroke="#111" stroke-width="1.3"/>
<text x="310.20" y="706.00" font-size="10.1" text-anchor="end" font-weight="normal" font-style="normal" fill="#111" textLength="20.8" lengthAdjust="spacingAndGlyphs">1000</text>
<line x1="319.00" y1="698.80" x2="319.00" y2="832.20" stroke="#111" stroke-width="2.0"/>
<line x1="318.00" y1="831.30" x2="502.80" y2="831.30" stroke="#111" stroke-width="1.8"/>
<circle cx="358.00" cy="770.75" r="2.55" fill="#a6002c" stroke="#f2e2da" stroke-width="0.6"/>
<circle cx="363.75" cy="777.00" r="2.55" fill="#a6002c" stroke="#f2e2da" stroke-width="0.6"/>
<circle cx="352.50" cy="781.75" r="2.55" fill="#a6002c" stroke="#f2e2da" stroke-width="0.6"/>
<circle cx="341.25" cy="790.00" r="2.55" fill="#a6002c" stroke="#f2e2da" stroke-width="0.6"/>
<circle cx="352.50" cy="788.25" r="2.55" fill="#a6002c" stroke="#f2e2da" stroke-width="0.6"/>
<circle cx="363.75" cy="791.25" r="2.55" fill="#a6002c" stroke="#f2e2da" stroke-width="0.6"/>
<circle cx="375.00" cy="788.75" r="2.55" fill="#a6002c" stroke="#f2e2da" stroke-width="0.6"/>
<circle cx="352.50" cy="794.25" r="2.55" fill="#a6002c" stroke="#f2e2da" stroke-width="0.6"/>
<circle cx="375.00" cy="795.00" r="2.55" fill="#a6002c" stroke="#f2e2da" stroke-width="0.6"/>
<circle cx="363.75" cy="801.75" r="2.55" fill="#a6002c" stroke="#f2e2da" stroke-width="0.6"/>
<circle cx="352.50" cy="806.25" r="2.55" fill="#a6002c" stroke="#f2e2da" stroke-width="0.6"/>
<circle cx="363.75" cy="811.25" r="2.55" fill="#a6002c" stroke="#f2e2da" stroke-width="0.6"/>
<circle cx="358.00" cy="816.75" r="2.55" fill="#a6002c" stroke="#f2e2da" stroke-width="0.6"/>
<line x1="416.20" y1="743.90" x2="416.20" y2="762.00" stroke="#111" stroke-width="1.5"/>
<line x1="406.10" y1="743.90" x2="426.40" y2="743.90" stroke="#111" stroke-width="1.5"/>
<circle cx="416.20" cy="715.90" r="2.55" fill="#a6002c" stroke="#f2e2da" stroke-width="0.6"/>
<circle cx="416.20" cy="728.70" r="2.55" fill="#a6002c" stroke="#f2e2da" stroke-width="0.6"/>
<circle cx="415.80" cy="797.60" r="2.55" fill="#a6002c" stroke="#f2e2da" stroke-width="0.6"/>
<circle cx="415.90" cy="807.10" r="2.55" fill="#a6002c" stroke="#f2e2da" stroke-width="0.6"/>
<circle cx="415.90" cy="813.60" r="2.55" fill="#a6002c" stroke="#f2e2da" stroke-width="0.6"/>
<circle cx="411.22" cy="741.55" r="2.55" fill="#a6002c"/>
<circle cx="417.67" cy="741.25" r="2.55" fill="#a6002c"/>
<circle cx="410.43" cy="744.20" r="2.55" fill="#a6002c"/>
<circle cx="416.29" cy="744.15" r="2.55" fill="#a6002c"/>
<circle cx="420.62" cy="744.45" r="2.55" fill="#a6002c"/>
<circle cx="411.49" cy="747.99" r="2.55" fill="#a6002c"/>
<circle cx="415.51" cy="748.40" r="2.55" fill="#a6002c"/>
<circle cx="419.71" cy="747.68" r="2.55" fill="#a6002c"/>
<circle cx="412.40" cy="751.22" r="2.55" fill="#a6002c"/>
<circle cx="418.34" cy="751.98" r="2.55" fill="#a6002c"/>
<circle cx="414.26" cy="754.54" r="2.55" fill="#a6002c"/>
<circle cx="418.73" cy="755.59" r="2.55" fill="#a6002c"/>
<circle cx="412.03" cy="758.64" r="2.55" fill="#a6002c"/>
<circle cx="418.00" cy="758.69" r="2.55" fill="#a6002c"/>
<circle cx="423.54" cy="758.73" r="2.55" fill="#a6002c"/>
<circle cx="405.13" cy="762.18" r="2.55" fill="#a6002c"/>
<circle cx="410.69" cy="762.10" r="2.55" fill="#a6002c"/>
<circle cx="414.86" cy="761.48" r="2.55" fill="#a6002c"/>
<circle cx="420.91" cy="761.99" r="2.55" fill="#a6002c"/>
<circle cx="425.08" cy="762.54" r="2.55" fill="#a6002c"/>
<circle cx="401.96" cy="765.77" r="2.55" fill="#a6002c"/>
<circle cx="406.76" cy="765.24" r="2.55" fill="#a6002c"/>
<circle cx="410.56" cy="765.95" r="2.55" fill="#a6002c"/>
<circle cx="414.73" cy="765.82" r="2.55" fill="#a6002c"/>
<circle cx="419.13" cy="765.73" r="2.55" fill="#a6002c"/>
<circle cx="424.29" cy="766.04" r="2.55" fill="#a6002c"/>
<circle cx="428.89" cy="765.50" r="2.55" fill="#a6002c"/>
<circle cx="401.72" cy="768.58" r="2.55" fill="#a6002c"/>
<circle cx="406.76" cy="769.01" r="2.55" fill="#a6002c"/>
<circle cx="410.87" cy="769.48" r="2.55" fill="#a6002c"/>
<circle cx="416.04" cy="769.24" r="2.55" fill="#a6002c"/>
<circle cx="420.34" cy="768.69" r="2.55" fill="#a6002c"/>
<circle cx="424.74" cy="768.81" r="2.55" fill="#a6002c"/>
<circle cx="429.70" cy="768.91" r="2.55" fill="#a6002c"/>
<circle cx="401.83" cy="772.90" r="2.55" fill="#a6002c"/>
<circle cx="407.26" cy="772.11" r="2.55" fill="#a6002c"/>
<circle cx="411.48" cy="772.10" r="2.55" fill="#a6002c"/>
<circle cx="416.62" cy="773.07" r="2.55" fill="#a6002c"/>
<circle cx="420.88" cy="772.82" r="2.55" fill="#a6002c"/>
<circle cx="425.81" cy="771.92" r="2.55" fill="#a6002c"/>
<circle cx="431.19" cy="772.31" r="2.55" fill="#a6002c"/>
<circle cx="399.91" cy="775.92" r="2.55" fill="#a6002c"/>
<circle cx="404.51" cy="775.89" r="2.55" fill="#a6002c"/>
<circle cx="409.29" cy="775.90" r="2.55" fill="#a6002c"/>
<circle cx="413.98" cy="775.75" r="2.55" fill="#a6002c"/>
<circle cx="417.92" cy="775.50" r="2.55" fill="#a6002c"/>
<circle cx="422.46" cy="776.03" r="2.55" fill="#a6002c"/>
<circle cx="427.29" cy="776.37" r="2.55" fill="#a6002c"/>
<circle cx="431.99" cy="776.25" r="2.55" fill="#a6002c"/>
<circle cx="401.50" cy="778.98" r="2.55" fill="#a6002c"/>
<circle cx="404.71" cy="779.07" r="2.55" fill="#a6002c"/>
<circle cx="409.53" cy="779.59" r="2.55" fill="#a6002c"/>
<circle cx="414.33" cy="779.32" r="2.55" fill="#a6002c"/>
<circle cx="418.97" cy="778.90" r="2.55" fill="#a6002c"/>
<circle cx="423.19" cy="779.15" r="2.55" fill="#a6002c"/>
<circle cx="427.61" cy="778.94" r="2.55" fill="#a6002c"/>
<circle cx="432.10" cy="779.81" r="2.55" fill="#a6002c"/>
<circle cx="407.62" cy="783.10" r="2.55" fill="#a6002c"/>
<circle cx="411.32" cy="783.56" r="2.55" fill="#a6002c"/>
<circle cx="416.31" cy="782.50" r="2.55" fill="#a6002c"/>
<circle cx="421.18" cy="783.00" r="2.55" fill="#a6002c"/>
<circle cx="425.70" cy="782.59" r="2.55" fill="#a6002c"/>
<circle cx="429.96" cy="783.10" r="2.55" fill="#a6002c"/>
<circle cx="409.36" cy="786.05" r="2.55" fill="#a6002c"/>
<circle cx="413.43" cy="786.77" r="2.55" fill="#a6002c"/>
<circle cx="417.84" cy="786.47" r="2.55" fill="#a6002c"/>
<circle cx="421.54" cy="786.33" r="2.55" fill="#a6002c"/>
<circle cx="474.00" cy="725.20" r="2.55" fill="#a6002c" stroke="#f2e2da" stroke-width="0.6"/>
<circle cx="474.00" cy="736.20" r="2.55" fill="#a6002c" stroke="#f2e2da" stroke-width="0.6"/>
<circle cx="484.40" cy="749.50" r="2.55" fill="#a6002c" stroke="#f2e2da" stroke-width="0.6"/>
<circle cx="474.00" cy="753.70" r="2.55" fill="#a6002c" stroke="#f2e2da" stroke-width="0.6"/>
<circle cx="463.50" cy="756.50" r="2.55" fill="#a6002c" stroke="#f2e2da" stroke-width="0.6"/>
<circle cx="484.40" cy="757.50" r="2.55" fill="#a6002c" stroke="#f2e2da" stroke-width="0.6"/>
<circle cx="463.50" cy="764.00" r="2.55" fill="#a6002c" stroke="#f2e2da" stroke-width="0.6"/>
<circle cx="484.40" cy="767.20" r="2.55" fill="#a6002c" stroke="#f2e2da" stroke-width="0.6"/>
<circle cx="463.50" cy="770.40" r="2.55" fill="#a6002c" stroke="#f2e2da" stroke-width="0.6"/>
<circle cx="474.00" cy="770.30" r="2.55" fill="#a6002c" stroke="#f2e2da" stroke-width="0.6"/>
<circle cx="474.00" cy="777.40" r="2.55" fill="#a6002c" stroke="#f2e2da" stroke-width="0.6"/>
<circle cx="484.40" cy="776.00" r="2.55" fill="#a6002c" stroke="#f2e2da" stroke-width="0.6"/>
<circle cx="468.80" cy="788.10" r="2.55" fill="#a6002c" stroke="#f2e2da" stroke-width="0.6"/>
<circle cx="479.20" cy="789.80" r="2.55" fill="#a6002c" stroke="#f2e2da" stroke-width="0.6"/>
<circle cx="463.50" cy="795.80" r="2.55" fill="#a6002c" stroke="#f2e2da" stroke-width="0.6"/>
<circle cx="474.00" cy="797.90" r="2.55" fill="#a6002c" stroke="#f2e2da" stroke-width="0.6"/>
<circle cx="484.40" cy="795.40" r="2.55" fill="#a6002c" stroke="#f2e2da" stroke-width="0.6"/>
<circle cx="474.00" cy="809.70" r="2.55" fill="#a6002c" stroke="#f2e2da" stroke-width="0.6"/>
<circle cx="479.20" cy="825.00" r="2.55" fill="#a6002c" stroke="#f2e2da" stroke-width="0.6"/>
<circle cx="468.80" cy="828.50" r="2.55" fill="#a6002c" stroke="#f2e2da" stroke-width="0.6"/>
<line x1="358.00" y1="779.30" x2="358.00" y2="790.00" stroke="#111" stroke-width="1.5"/>
<line x1="348.00" y1="779.30" x2="368.30" y2="779.30" stroke="#111" stroke-width="1.5"/>
<line x1="474.00" y1="742.60" x2="474.00" y2="761.00" stroke="#111" stroke-width="1.5"/>
<line x1="463.60" y1="742.60" x2="484.10" y2="742.60" stroke="#111" stroke-width="1.5"/>
<line x1="358.20" y1="831.30" x2="358.20" y2="836.10" stroke="#111" stroke-width="1.3"/>
<line x1="415.90" y1="831.30" x2="415.90" y2="836.10" stroke="#111" stroke-width="1.3"/>
<line x1="474.20" y1="831.30" x2="474.20" y2="836.10" stroke="#111" stroke-width="1.3"/>
<text x="351.20" y="848.50" font-size="10.2" text-anchor="start" font-weight="normal" font-style="normal" fill="#111" textLength="14.6" lengthAdjust="spacingAndGlyphs">HC</text>
<text x="386.60" y="848.50" font-size="10.2" text-anchor="start" font-weight="normal" font-style="normal" fill="#111" textLength="58.5" lengthAdjust="spacingAndGlyphs">SCD-Baseline</text>
<text x="451.30" y="848.50" font-size="10.2" text-anchor="start" font-weight="normal" font-style="normal" fill="#111" textLength="46.0" lengthAdjust="spacingAndGlyphs">SCD-Crisis</text>
<text transform="translate(281.00,806.20) rotate(-90)" font-size="13.4" text-anchor="start" font-weight="normal" font-style="normal" fill="#111" textLength="82.4" lengthAdjust="spacingAndGlyphs">MT-ND6/TERT ratio</text>
<text x="380.60" y="670.90" font-size="10.4" text-anchor="start" font-weight="normal" font-style="normal" fill="#111" textLength="61.7" lengthAdjust="spacingAndGlyphs">MT-ND6:TERT</text>
<polyline points="346.00,711.20 346.00,684.40 474.30,684.40 474.30,711.20" fill="none" stroke="#111" stroke-width="1.5"/>
<circle cx="410.00" cy="680.40" r="1.1" fill="#2a2a2a"/>
<polyline points="346.00,711.20 346.00,702.00 415.80,702.00 415.80,710.40" fill="none" stroke="#111" stroke-width="1.5"/>
<circle cx="375.55" cy="698.00" r="1.1" fill="#2a2a2a"/>
<circle cx="379.25" cy="698.00" r="1.1" fill="#2a2a2a"/>
<circle cx="382.95" cy="698.00" r="1.1" fill="#2a2a2a"/>
<circle cx="386.65" cy="698.00" r="1.1" fill="#2a2a2a"/>
<rect x="0.8" y="0.8" width="518.2" height="860.2" fill="none" stroke="#000" stroke-width="1.9"/>
</svg>
</body></html>
